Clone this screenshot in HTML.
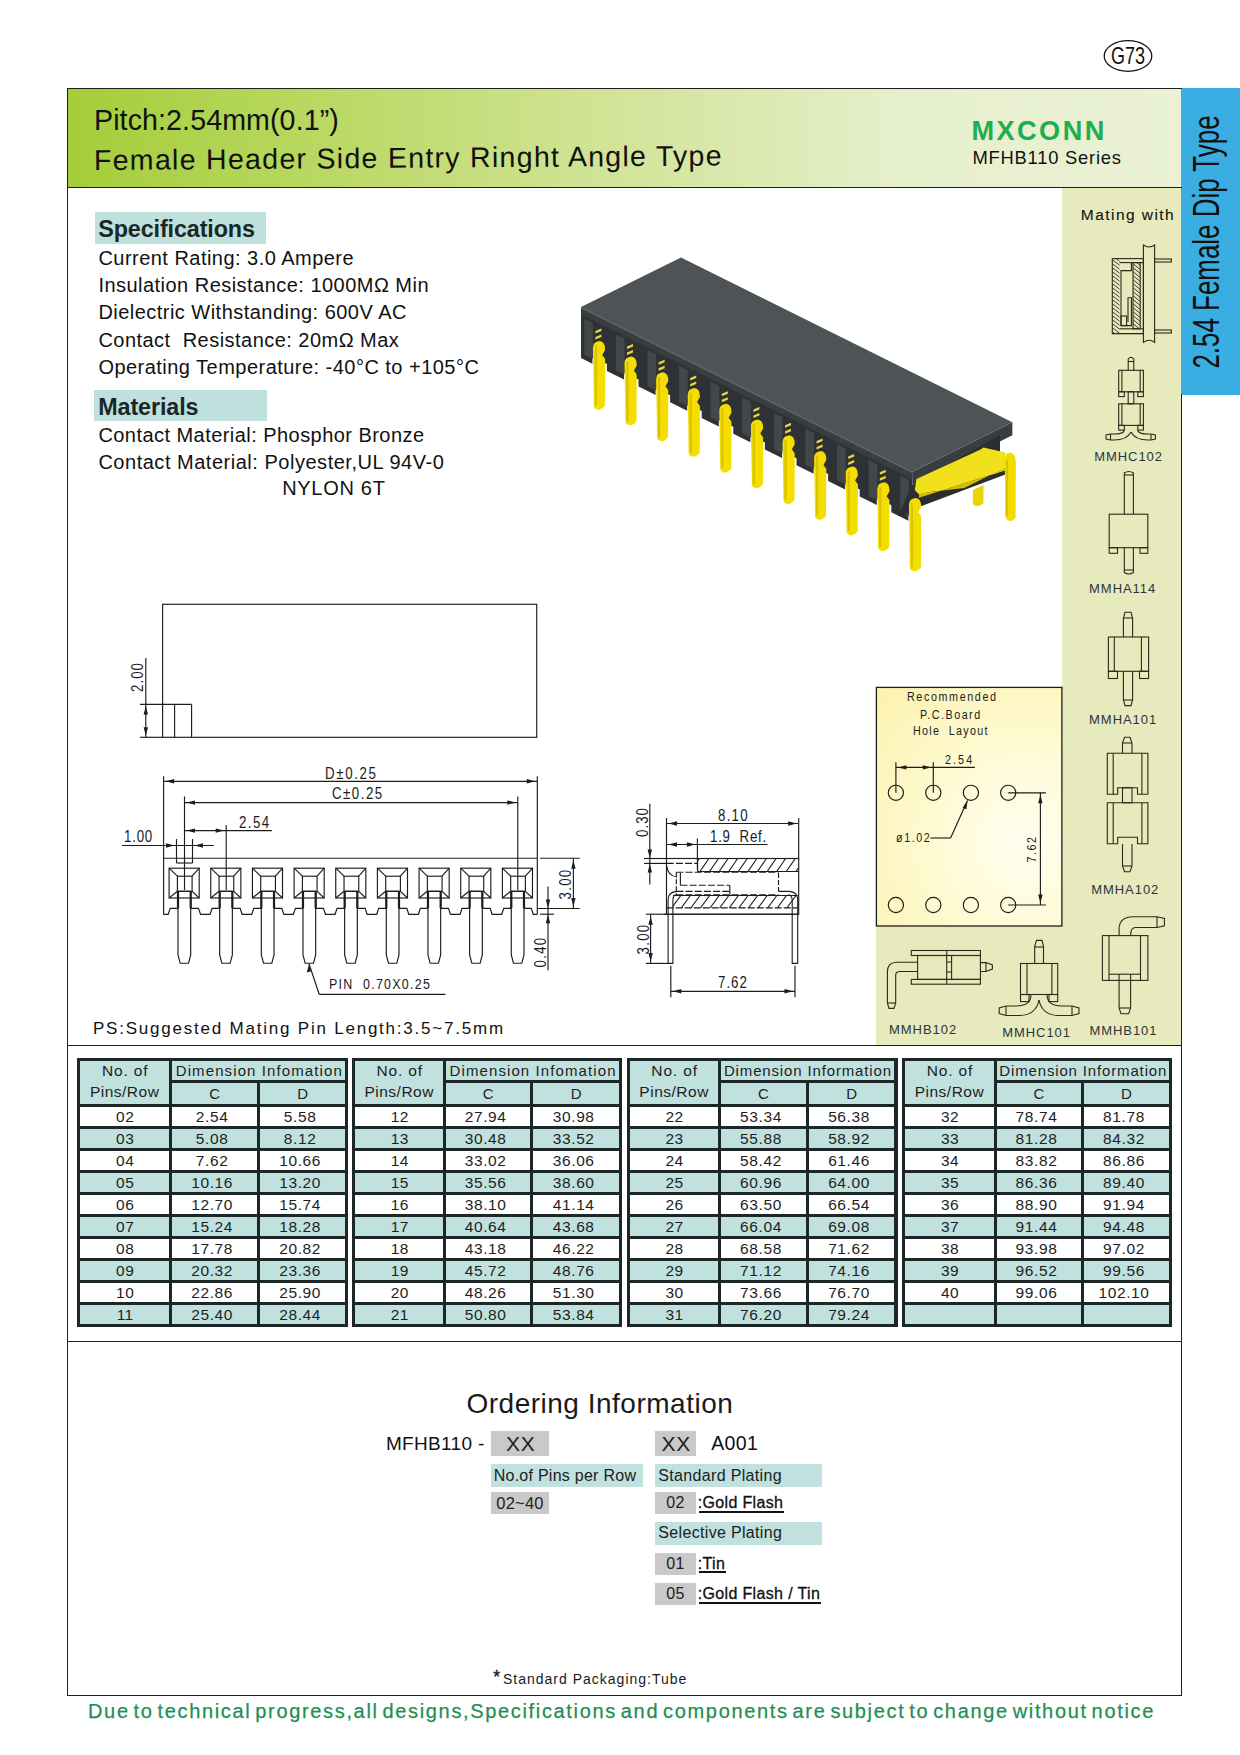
<!DOCTYPE html>
<html><head><meta charset="utf-8"><style>
html,body{margin:0;padding:0;background:#fff;}
body{width:1240px;height:1755px;position:relative;overflow:hidden;font-family:"Liberation Sans",sans-serif;}
.t{position:absolute;white-space:pre;line-height:1;}
.r{position:absolute;}
svg{position:absolute;left:0;top:0;}
</style></head><body>

<div class="r" style="left:68.00px;top:89.00px;width:1113.00px;height:98.00px;background:linear-gradient(90deg,#a4cd39 0%,#b9d861 22%,#d3e49a 50%,#e6efcc 75%,#eaf1d6 100%);"></div>
<div class="r" style="left:1062.00px;top:188.00px;width:119.00px;height:858.00px;background:#e7eabd;"></div>
<div class="r" style="left:876.00px;top:926.00px;width:186.00px;height:120.00px;background:#e7eabd;"></div>
<div class="r" style="left:876.50px;top:687.50px;width:185.50px;height:238.50px;background:radial-gradient(ellipse 120% 100% at 80% 65%,#fffef0 0%,#fffbd8 35%,#fbf1a8 100%);"></div>
<div class="r" style="left:1181.00px;top:88.00px;width:59.00px;height:307.00px;background:#3aade2;"></div>
<div class="t" style="left:94.00px;top:106.39px;font-size:28.6px;font-weight:400;color:#111;letter-spacing:0.1px;">Pitch:2.54mm(0.1”)</div>
<div style="position:absolute;left:0;top:0;transform:rotate(-0.42deg);transform-origin:96px 170px;">
<div class="t" style="left:94.00px;top:146.39px;font-size:28.6px;font-weight:400;color:#111;letter-spacing:1.25px;">Female Header Side Entry Ringht Angle Type</div>
</div>
<div class="t" style="left:971.50px;top:117.28px;font-size:27.2px;font-weight:700;color:#1eae4e;letter-spacing:2.4px;">MXCONN</div>
<div class="t" style="left:972.50px;top:148.92px;font-size:18.4px;font-weight:400;color:#111;letter-spacing:0.75px;">MFHB110 Series</div>
<svg width="1240" height="80" style="left:0;top:0"><ellipse cx="1128" cy="56" rx="23.8" ry="15.3" fill="none" stroke="#111" stroke-width="1.3"/></svg>
<div class="t" style="left:1111.00px;top:44.38px;font-size:24px;font-weight:400;color:#111;letter-spacing:0px;transform:scaleX(0.75);transform-origin:0 0;">G73</div>
<div class="t" style="left:1207.4px;top:242.3px;font-size:36px;color:#111;transform:translate(-50%,-50%) rotate(-90deg) scaleX(0.72);">2.54 Female Dip Type</div>
<div class="r" style="left:94.70px;top:212.30px;width:171.80px;height:31.40px;background:#bfe0dc;"></div>
<div class="t" style="left:98.30px;top:217.88px;font-size:23.3px;font-weight:700;color:#1a2628;letter-spacing:-0.1px;">Specifications</div>
<div class="t" style="left:98.40px;top:248.27px;font-size:20px;font-weight:400;color:#111;letter-spacing:0.47px;">Current Rating: 3.0 Ampere</div>
<div class="t" style="left:98.40px;top:274.67px;font-size:20px;font-weight:400;color:#111;letter-spacing:0.47px;">Insulation Resistance: 1000MΩ Min</div>
<div class="t" style="left:98.40px;top:302.07px;font-size:20px;font-weight:400;color:#111;letter-spacing:0.47px;">Dielectric Withstanding: 600V AC</div>
<div class="t" style="left:98.40px;top:329.57px;font-size:20px;font-weight:400;color:#111;letter-spacing:0.47px;">Contact  Resistance: 20mΩ Max</div>
<div class="t" style="left:98.40px;top:356.97px;font-size:20px;font-weight:400;color:#111;letter-spacing:0.47px;">Operating Temperature: -40°C to +105°C</div>
<div class="r" style="left:94.00px;top:389.70px;width:172.60px;height:31.60px;background:#bfe0dc;"></div>
<div class="t" style="left:98.30px;top:395.58px;font-size:23.3px;font-weight:700;color:#1a2628;letter-spacing:-0.1px;">Materials</div>
<div class="t" style="left:98.40px;top:425.07px;font-size:20px;font-weight:400;color:#111;letter-spacing:0.45px;">Contact Material: Phosphor Bronze</div>
<div class="t" style="left:98.40px;top:451.77px;font-size:20px;font-weight:400;color:#111;letter-spacing:0.52px;">Contact Material: Polyester,UL 94V-0</div>
<div class="t" style="left:282.20px;top:478.27px;font-size:20px;font-weight:400;color:#111;letter-spacing:0.7px;">NYLON 6T</div>
<div class="t" style="left:93.00px;top:1019.71px;font-size:17px;font-weight:400;color:#111;letter-spacing:1.78px;">PS:Suggested Mating Pin Length:3.5~7.5mm</div>
<div class="r" style="left:67.00px;top:88.00px;width:1115.00px;height:1.30px;background:#1e1e1e;"></div>
<div class="r" style="left:67.00px;top:186.60px;width:1115.00px;height:1.30px;background:#1e1e1e;"></div>
<div class="r" style="left:67.00px;top:88.00px;width:1.30px;height:1608.30px;background:#1e1e1e;"></div>
<div class="r" style="left:1180.80px;top:394.00px;width:1.30px;height:1302.30px;background:#1e1e1e;"></div>
<div class="r" style="left:67.00px;top:1695.00px;width:1115.10px;height:1.30px;background:#1e1e1e;"></div>
<div class="r" style="left:67.00px;top:1045.00px;width:1115.00px;height:1.20px;background:#1e1e1e;"></div>
<div class="r" style="left:67.00px;top:1341.00px;width:1115.00px;height:1.10px;background:#1e1e1e;"></div>
<svg width="1240" height="600" viewBox="0 0 1240 600" style="left:0;top:0"><polygon points="581.0,307.0 912.4,471.8 912.4,515.8 908.4,513.8 908.4,520.8 891.3,512.3 891.3,505.3 876.8,498.1 876.8,505.1 859.7,496.6 859.7,489.6 845.2,482.4 845.2,489.4 828.1,480.9 828.1,473.9 813.6,466.7 813.6,473.7 796.5,465.2 796.5,458.2 782.0,451.0 782.0,458.0 764.9,449.5 764.9,442.5 750.4,435.2 750.4,442.2 733.3,433.7 733.3,426.7 718.8,419.5 718.8,426.5 701.7,418.0 701.7,411.0 687.2,403.8 687.2,410.8 670.1,402.3 670.1,395.3 655.6,388.1 655.6,395.1 638.5,386.6 638.5,379.6 624.0,372.4 624.0,379.4 606.9,370.9 606.9,363.9 592.4,356.7 592.4,363.7 581.0,358.0 581.0,359.5" fill="#2e3235" /><polygon points="581.0,307.0 912.4,471.8 912.4,479.3 581.0,314.5" fill="#3a3e41" /><polygon points="584.2,318.6 592.9,322.9 592.9,358.9 584.2,354.6" fill="#42474a" /><polygon points="615.8,334.3 624.5,338.6 624.5,374.6 615.8,370.3" fill="#42474a" /><polygon points="647.4,350.0 656.1,354.3 656.1,390.3 647.4,386.0" fill="#42474a" /><polygon points="679.0,365.7 687.7,370.1 687.7,406.1 679.0,401.7" fill="#42474a" /><polygon points="710.6,381.5 719.3,385.8 719.3,421.8 710.6,417.5" fill="#42474a" /><polygon points="742.2,397.2 750.9,401.5 750.9,437.5 742.2,433.2" fill="#42474a" /><polygon points="773.8,412.9 782.5,417.2 782.5,453.2 773.8,448.9" fill="#42474a" /><polygon points="805.4,428.6 814.1,432.9 814.1,468.9 805.4,464.6" fill="#42474a" /><polygon points="837.0,444.3 845.7,448.6 845.7,484.6 837.0,480.3" fill="#42474a" /><polygon points="868.6,460.0 877.3,464.3 877.3,500.3 868.6,496.0" fill="#42474a" /><polygon points="900.2,475.7 908.9,480.1 908.9,516.1 900.2,511.7" fill="#42474a" /><polygon points="912.4,471.8 1012.4,422.3 1012.4,435.3 912.4,484.8" fill="#393d40" /><polygon points="912.4,484.8 1000.0,435.0 1000.0,468.0 921.0,506.0 906.0,514.0 898.0,516.0" fill="#2b2f32" /><path d="M972.9,490 L983.5,485 L983.5,503 Q978.5,509 972.9,504 Z" fill="#e9d400"/><polygon points="914.8,490.0 916.5,479.0 980.6,449.5 983.4,447.6 1005.3,452.5 1005.3,467.6 964.2,488.1 928.5,492.3 919.0,494.5" fill="#f3e01c" /><polygon points="919.0,497.7 1005.3,470.3 1005.3,474.4 921.7,506.0" fill="#2a2d2a" /><polygon points="928.5,492.3 964.2,488.1 1005.3,467.6 1005.3,470.3 919.0,497.7 919.0,493.6" fill="#d6bf00" /><path d="M1004.8,459 Q1005.5,452 1010.5,452.5 Q1015.8,454 1015.8,462 L1015.6,517 Q1010.5,525 1005.2,517 Z" fill="#f2dc00"/><path d="M1007,460 L1007,516" stroke="#d9c300" stroke-width="2"/><polygon points="581.0,307.0 681.0,257.5 1012.4,422.3 912.4,471.8" fill="#4e5356" /><line x1="581" y1="307.6" x2="912.4" y2="472.40000000000003" stroke="#5e6366" stroke-width="1.2"/><path d="M592.9,347.9 Q592.9,341.4 599.9,340.9 Q605.4,341.9 605.1,349.9 L602.3,354.9 L605.1,358.9 L604.9,405.4 Q599.4,412.9 593.9,407.4 Z" fill="#f3de00"/><path d="M595.9,345.9 L595.9,405.4" stroke="#d9c200" stroke-width="2.2"/><path d="M595.4,330.9 l6,-2.5 l0,2.5 l-6,2.5 Z M595.4,336.9 l6,-2.5 l0,2.5 l-6,2.5 Z" fill="#e8d83a"/><path d="M624.5,363.6 Q624.5,357.1 631.5,356.6 Q637.0,357.6 636.7,365.6 L633.9,370.6 L636.7,374.6 L636.5,421.1 Q631.0,428.6 625.5,423.1 Z" fill="#f3de00"/><path d="M627.5,361.6 L627.5,421.1" stroke="#d9c200" stroke-width="2.2"/><path d="M627.0,346.6 l6,-2.5 l0,2.5 l-6,2.5 Z M627.0,352.6 l6,-2.5 l0,2.5 l-6,2.5 Z" fill="#e8d83a"/><path d="M656.1,379.3 Q656.1,372.8 663.1,372.3 Q668.6,373.3 668.3,381.3 L665.5,386.3 L668.3,390.3 L668.1,436.8 Q662.6,444.3 657.1,438.8 Z" fill="#f3de00"/><path d="M659.1,377.3 L659.1,436.8" stroke="#d9c200" stroke-width="2.2"/><path d="M658.6,362.3 l6,-2.5 l0,2.5 l-6,2.5 Z M658.6,368.3 l6,-2.5 l0,2.5 l-6,2.5 Z" fill="#e8d83a"/><path d="M687.7,395.0 Q687.7,388.5 694.7,388.0 Q700.2,389.0 699.9,397.0 L697.1,402.0 L699.9,406.0 L699.7,452.5 Q694.2,460.0 688.7,454.5 Z" fill="#f3de00"/><path d="M690.7,393.0 L690.7,452.5" stroke="#d9c200" stroke-width="2.2"/><path d="M690.2,378.0 l6,-2.5 l0,2.5 l-6,2.5 Z M690.2,384.0 l6,-2.5 l0,2.5 l-6,2.5 Z" fill="#e8d83a"/><path d="M719.3,410.8 Q719.3,404.3 726.3,403.8 Q731.8,404.8 731.5,412.8 L728.7,417.8 L731.5,421.8 L731.3,468.3 Q725.8,475.8 720.3,470.3 Z" fill="#f3de00"/><path d="M722.3,408.8 L722.3,468.3" stroke="#d9c200" stroke-width="2.2"/><path d="M721.8,393.8 l6,-2.5 l0,2.5 l-6,2.5 Z M721.8,399.8 l6,-2.5 l0,2.5 l-6,2.5 Z" fill="#e8d83a"/><path d="M750.9,426.5 Q750.9,420.0 757.9,419.5 Q763.4,420.5 763.1,428.5 L760.3,433.5 L763.1,437.5 L762.9,484.0 Q757.4,491.5 751.9,486.0 Z" fill="#f3de00"/><path d="M753.9,424.5 L753.9,484.0" stroke="#d9c200" stroke-width="2.2"/><path d="M753.4,409.5 l6,-2.5 l0,2.5 l-6,2.5 Z M753.4,415.5 l6,-2.5 l0,2.5 l-6,2.5 Z" fill="#e8d83a"/><path d="M782.5,442.2 Q782.5,435.7 789.5,435.2 Q795.0,436.2 794.7,444.2 L791.9,449.2 L794.7,453.2 L794.5,499.7 Q789.0,507.2 783.5,501.7 Z" fill="#f3de00"/><path d="M785.5,440.2 L785.5,499.7" stroke="#d9c200" stroke-width="2.2"/><path d="M785.0,425.2 l6,-2.5 l0,2.5 l-6,2.5 Z M785.0,431.2 l6,-2.5 l0,2.5 l-6,2.5 Z" fill="#e8d83a"/><path d="M814.1,457.9 Q814.1,451.4 821.1,450.9 Q826.6,451.9 826.3,459.9 L823.5,464.9 L826.3,468.9 L826.1,515.4 Q820.6,522.9 815.1,517.4 Z" fill="#f3de00"/><path d="M817.1,455.9 L817.1,515.4" stroke="#d9c200" stroke-width="2.2"/><path d="M816.6,440.9 l6,-2.5 l0,2.5 l-6,2.5 Z M816.6,446.9 l6,-2.5 l0,2.5 l-6,2.5 Z" fill="#e8d83a"/><path d="M845.7,473.6 Q845.7,467.1 852.7,466.6 Q858.2,467.6 857.9,475.6 L855.1,480.6 L857.9,484.6 L857.7,531.1 Q852.2,538.6 846.7,533.1 Z" fill="#f3de00"/><path d="M848.7,471.6 L848.7,531.1" stroke="#d9c200" stroke-width="2.2"/><path d="M848.2,456.6 l6,-2.5 l0,2.5 l-6,2.5 Z M848.2,462.6 l6,-2.5 l0,2.5 l-6,2.5 Z" fill="#e8d83a"/><path d="M877.3,489.3 Q877.3,482.8 884.3,482.3 Q889.8,483.3 889.5,491.3 L886.7,496.3 L889.5,500.3 L889.3,546.8 Q883.8,554.3 878.3,548.8 Z" fill="#f3de00"/><path d="M880.3,487.3 L880.3,546.8" stroke="#d9c200" stroke-width="2.2"/><path d="M879.8,472.3 l6,-2.5 l0,2.5 l-6,2.5 Z M879.8,478.3 l6,-2.5 l0,2.5 l-6,2.5 Z" fill="#e8d83a"/><path d="M908.9,505.0 Q908.9,498.5 915.9,498.0 Q921.4,499.0 921.1,507.0 L918.3,512.0 L921.1,516.0 L920.9,567.0 Q915.4,574.5 909.9,569.0 Z" fill="#f3de00"/><path d="M911.9,503.0 L911.9,567.0" stroke="#d9c200" stroke-width="2.2"/></svg>
<svg width="1240" height="1100" viewBox="0 0 1240 1100" style="left:0;top:0"><rect x="162.60" y="604.30" width="374.10" height="133.00" fill="none" stroke="#1c1c1c" stroke-width="1.15"/><line x1="140.00" y1="704.40" x2="191.60" y2="704.40" stroke="#1c1c1c" stroke-width="1.15"/><line x1="174.60" y1="704.40" x2="174.60" y2="737.30" stroke="#1c1c1c" stroke-width="1.15"/><line x1="191.60" y1="704.40" x2="191.60" y2="737.30" stroke="#1c1c1c" stroke-width="1.15"/><line x1="140.00" y1="737.30" x2="162.60" y2="737.30" stroke="#1c1c1c" stroke-width="1.15"/><line x1="145.80" y1="658.00" x2="145.80" y2="737.30" stroke="#1c1c1c" stroke-width="1.15"/><polygon points="145.80,705.90 143.60,714.40 148.00,714.40" fill="#1c1c1c"/><polygon points="145.80,735.80 143.60,727.30 148.00,727.30" fill="#1c1c1c"/><line x1="163.60" y1="776.30" x2="163.60" y2="914.40" stroke="#1c1c1c" stroke-width="1.15"/><line x1="537.30" y1="776.30" x2="537.30" y2="914.30" stroke="#1c1c1c" stroke-width="1.15"/><line x1="163.60" y1="858.20" x2="537.30" y2="858.20" stroke="#1c1c1c" stroke-width="1.15"/><polyline points="163.60,914.30 168.20,914.30 170.20,908.30 178.00,908.30" fill="none" stroke="#1c1c1c" stroke-width="1.15" stroke-linejoin="miter"/><polyline points="190.70,908.30 198.50,908.30 200.50,914.30 210.10,914.30 212.10,908.30 219.66,908.30" fill="none" stroke="#1c1c1c" stroke-width="1.15" stroke-linejoin="miter"/><polyline points="232.36,908.30 240.16,908.30 242.16,914.30 251.76,914.30 253.76,908.30 261.32,908.30" fill="none" stroke="#1c1c1c" stroke-width="1.15" stroke-linejoin="miter"/><polyline points="274.02,908.30 281.82,908.30 283.82,914.30 293.42,914.30 295.42,908.30 302.98,908.30" fill="none" stroke="#1c1c1c" stroke-width="1.15" stroke-linejoin="miter"/><polyline points="315.68,908.30 323.48,908.30 325.48,914.30 335.08,914.30 337.08,908.30 344.64,908.30" fill="none" stroke="#1c1c1c" stroke-width="1.15" stroke-linejoin="miter"/><polyline points="357.34,908.30 365.14,908.30 367.14,914.30 376.74,914.30 378.74,908.30 386.30,908.30" fill="none" stroke="#1c1c1c" stroke-width="1.15" stroke-linejoin="miter"/><polyline points="399.00,908.30 406.80,908.30 408.80,914.30 418.40,914.30 420.40,908.30 427.96,908.30" fill="none" stroke="#1c1c1c" stroke-width="1.15" stroke-linejoin="miter"/><polyline points="440.66,908.30 448.46,908.30 450.46,914.30 460.06,914.30 462.06,908.30 469.62,908.30" fill="none" stroke="#1c1c1c" stroke-width="1.15" stroke-linejoin="miter"/><polyline points="482.32,908.30 490.12,908.30 492.12,914.30 501.72,914.30 503.72,908.30 511.28,908.30" fill="none" stroke="#1c1c1c" stroke-width="1.15" stroke-linejoin="miter"/><polyline points="523.98,908.30 531.28,908.30 533.28,914.30 537.30,914.30" fill="none" stroke="#1c1c1c" stroke-width="1.15" stroke-linejoin="miter"/><rect x="169.10" y="868.20" width="30.10" height="29.80" fill="none" stroke="#1c1c1c" stroke-width="1.15"/><rect x="177.40" y="876.20" width="14.70" height="15.10" fill="none" stroke="#1c1c1c" stroke-width="1.15"/><line x1="169.10" y1="868.20" x2="177.40" y2="876.20" stroke="#1c1c1c" stroke-width="1.15"/><line x1="199.20" y1="868.20" x2="192.10" y2="876.20" stroke="#1c1c1c" stroke-width="1.15"/><line x1="169.10" y1="898.00" x2="177.40" y2="891.30" stroke="#1c1c1c" stroke-width="1.15"/><line x1="199.20" y1="898.00" x2="192.10" y2="891.30" stroke="#1c1c1c" stroke-width="1.15"/><polyline points="178.00,891.30 178.00,955.00 180.20,963.20 188.50,963.20 190.70,955.00 190.70,891.30" fill="none" stroke="#1c1c1c" stroke-width="1.15" stroke-linejoin="miter"/><line x1="178.00" y1="891.30" x2="190.70" y2="891.30" stroke="#1c1c1c" stroke-width="1.15"/><line x1="178.00" y1="891.00" x2="178.00" y2="908.30" stroke="#1c1c1c" stroke-width="2.2"/><line x1="190.70" y1="891.00" x2="190.70" y2="908.30" stroke="#1c1c1c" stroke-width="2.2"/><rect x="210.76" y="868.20" width="30.10" height="29.80" fill="none" stroke="#1c1c1c" stroke-width="1.15"/><rect x="219.06" y="876.20" width="14.70" height="15.10" fill="none" stroke="#1c1c1c" stroke-width="1.15"/><line x1="210.76" y1="868.20" x2="219.06" y2="876.20" stroke="#1c1c1c" stroke-width="1.15"/><line x1="240.86" y1="868.20" x2="233.76" y2="876.20" stroke="#1c1c1c" stroke-width="1.15"/><line x1="210.76" y1="898.00" x2="219.06" y2="891.30" stroke="#1c1c1c" stroke-width="1.15"/><line x1="240.86" y1="898.00" x2="233.76" y2="891.30" stroke="#1c1c1c" stroke-width="1.15"/><polyline points="219.66,891.30 219.66,955.00 221.86,963.20 230.16,963.20 232.36,955.00 232.36,891.30" fill="none" stroke="#1c1c1c" stroke-width="1.15" stroke-linejoin="miter"/><line x1="219.66" y1="891.30" x2="232.36" y2="891.30" stroke="#1c1c1c" stroke-width="1.15"/><line x1="219.66" y1="891.00" x2="219.66" y2="908.30" stroke="#1c1c1c" stroke-width="2.2"/><line x1="232.36" y1="891.00" x2="232.36" y2="908.30" stroke="#1c1c1c" stroke-width="2.2"/><rect x="252.42" y="868.20" width="30.10" height="29.80" fill="none" stroke="#1c1c1c" stroke-width="1.15"/><rect x="260.72" y="876.20" width="14.70" height="15.10" fill="none" stroke="#1c1c1c" stroke-width="1.15"/><line x1="252.42" y1="868.20" x2="260.72" y2="876.20" stroke="#1c1c1c" stroke-width="1.15"/><line x1="282.52" y1="868.20" x2="275.42" y2="876.20" stroke="#1c1c1c" stroke-width="1.15"/><line x1="252.42" y1="898.00" x2="260.72" y2="891.30" stroke="#1c1c1c" stroke-width="1.15"/><line x1="282.52" y1="898.00" x2="275.42" y2="891.30" stroke="#1c1c1c" stroke-width="1.15"/><polyline points="261.32,891.30 261.32,955.00 263.52,963.20 271.82,963.20 274.02,955.00 274.02,891.30" fill="none" stroke="#1c1c1c" stroke-width="1.15" stroke-linejoin="miter"/><line x1="261.32" y1="891.30" x2="274.02" y2="891.30" stroke="#1c1c1c" stroke-width="1.15"/><line x1="261.32" y1="891.00" x2="261.32" y2="908.30" stroke="#1c1c1c" stroke-width="2.2"/><line x1="274.02" y1="891.00" x2="274.02" y2="908.30" stroke="#1c1c1c" stroke-width="2.2"/><rect x="294.08" y="868.20" width="30.10" height="29.80" fill="none" stroke="#1c1c1c" stroke-width="1.15"/><rect x="302.38" y="876.20" width="14.70" height="15.10" fill="none" stroke="#1c1c1c" stroke-width="1.15"/><line x1="294.08" y1="868.20" x2="302.38" y2="876.20" stroke="#1c1c1c" stroke-width="1.15"/><line x1="324.18" y1="868.20" x2="317.08" y2="876.20" stroke="#1c1c1c" stroke-width="1.15"/><line x1="294.08" y1="898.00" x2="302.38" y2="891.30" stroke="#1c1c1c" stroke-width="1.15"/><line x1="324.18" y1="898.00" x2="317.08" y2="891.30" stroke="#1c1c1c" stroke-width="1.15"/><polyline points="302.98,891.30 302.98,955.00 305.18,963.20 313.48,963.20 315.68,955.00 315.68,891.30" fill="none" stroke="#1c1c1c" stroke-width="1.15" stroke-linejoin="miter"/><line x1="302.98" y1="891.30" x2="315.68" y2="891.30" stroke="#1c1c1c" stroke-width="1.15"/><line x1="302.98" y1="891.00" x2="302.98" y2="908.30" stroke="#1c1c1c" stroke-width="2.2"/><line x1="315.68" y1="891.00" x2="315.68" y2="908.30" stroke="#1c1c1c" stroke-width="2.2"/><rect x="335.74" y="868.20" width="30.10" height="29.80" fill="none" stroke="#1c1c1c" stroke-width="1.15"/><rect x="344.04" y="876.20" width="14.70" height="15.10" fill="none" stroke="#1c1c1c" stroke-width="1.15"/><line x1="335.74" y1="868.20" x2="344.04" y2="876.20" stroke="#1c1c1c" stroke-width="1.15"/><line x1="365.84" y1="868.20" x2="358.74" y2="876.20" stroke="#1c1c1c" stroke-width="1.15"/><line x1="335.74" y1="898.00" x2="344.04" y2="891.30" stroke="#1c1c1c" stroke-width="1.15"/><line x1="365.84" y1="898.00" x2="358.74" y2="891.30" stroke="#1c1c1c" stroke-width="1.15"/><polyline points="344.64,891.30 344.64,955.00 346.84,963.20 355.14,963.20 357.34,955.00 357.34,891.30" fill="none" stroke="#1c1c1c" stroke-width="1.15" stroke-linejoin="miter"/><line x1="344.64" y1="891.30" x2="357.34" y2="891.30" stroke="#1c1c1c" stroke-width="1.15"/><line x1="344.64" y1="891.00" x2="344.64" y2="908.30" stroke="#1c1c1c" stroke-width="2.2"/><line x1="357.34" y1="891.00" x2="357.34" y2="908.30" stroke="#1c1c1c" stroke-width="2.2"/><rect x="377.40" y="868.20" width="30.10" height="29.80" fill="none" stroke="#1c1c1c" stroke-width="1.15"/><rect x="385.70" y="876.20" width="14.70" height="15.10" fill="none" stroke="#1c1c1c" stroke-width="1.15"/><line x1="377.40" y1="868.20" x2="385.70" y2="876.20" stroke="#1c1c1c" stroke-width="1.15"/><line x1="407.50" y1="868.20" x2="400.40" y2="876.20" stroke="#1c1c1c" stroke-width="1.15"/><line x1="377.40" y1="898.00" x2="385.70" y2="891.30" stroke="#1c1c1c" stroke-width="1.15"/><line x1="407.50" y1="898.00" x2="400.40" y2="891.30" stroke="#1c1c1c" stroke-width="1.15"/><polyline points="386.30,891.30 386.30,955.00 388.50,963.20 396.80,963.20 399.00,955.00 399.00,891.30" fill="none" stroke="#1c1c1c" stroke-width="1.15" stroke-linejoin="miter"/><line x1="386.30" y1="891.30" x2="399.00" y2="891.30" stroke="#1c1c1c" stroke-width="1.15"/><line x1="386.30" y1="891.00" x2="386.30" y2="908.30" stroke="#1c1c1c" stroke-width="2.2"/><line x1="399.00" y1="891.00" x2="399.00" y2="908.30" stroke="#1c1c1c" stroke-width="2.2"/><rect x="419.06" y="868.20" width="30.10" height="29.80" fill="none" stroke="#1c1c1c" stroke-width="1.15"/><rect x="427.36" y="876.20" width="14.70" height="15.10" fill="none" stroke="#1c1c1c" stroke-width="1.15"/><line x1="419.06" y1="868.20" x2="427.36" y2="876.20" stroke="#1c1c1c" stroke-width="1.15"/><line x1="449.16" y1="868.20" x2="442.06" y2="876.20" stroke="#1c1c1c" stroke-width="1.15"/><line x1="419.06" y1="898.00" x2="427.36" y2="891.30" stroke="#1c1c1c" stroke-width="1.15"/><line x1="449.16" y1="898.00" x2="442.06" y2="891.30" stroke="#1c1c1c" stroke-width="1.15"/><polyline points="427.96,891.30 427.96,955.00 430.16,963.20 438.46,963.20 440.66,955.00 440.66,891.30" fill="none" stroke="#1c1c1c" stroke-width="1.15" stroke-linejoin="miter"/><line x1="427.96" y1="891.30" x2="440.66" y2="891.30" stroke="#1c1c1c" stroke-width="1.15"/><line x1="427.96" y1="891.00" x2="427.96" y2="908.30" stroke="#1c1c1c" stroke-width="2.2"/><line x1="440.66" y1="891.00" x2="440.66" y2="908.30" stroke="#1c1c1c" stroke-width="2.2"/><rect x="460.72" y="868.20" width="30.10" height="29.80" fill="none" stroke="#1c1c1c" stroke-width="1.15"/><rect x="469.02" y="876.20" width="14.70" height="15.10" fill="none" stroke="#1c1c1c" stroke-width="1.15"/><line x1="460.72" y1="868.20" x2="469.02" y2="876.20" stroke="#1c1c1c" stroke-width="1.15"/><line x1="490.82" y1="868.20" x2="483.72" y2="876.20" stroke="#1c1c1c" stroke-width="1.15"/><line x1="460.72" y1="898.00" x2="469.02" y2="891.30" stroke="#1c1c1c" stroke-width="1.15"/><line x1="490.82" y1="898.00" x2="483.72" y2="891.30" stroke="#1c1c1c" stroke-width="1.15"/><polyline points="469.62,891.30 469.62,955.00 471.82,963.20 480.12,963.20 482.32,955.00 482.32,891.30" fill="none" stroke="#1c1c1c" stroke-width="1.15" stroke-linejoin="miter"/><line x1="469.62" y1="891.30" x2="482.32" y2="891.30" stroke="#1c1c1c" stroke-width="1.15"/><line x1="469.62" y1="891.00" x2="469.62" y2="908.30" stroke="#1c1c1c" stroke-width="2.2"/><line x1="482.32" y1="891.00" x2="482.32" y2="908.30" stroke="#1c1c1c" stroke-width="2.2"/><rect x="502.38" y="868.20" width="30.10" height="29.80" fill="none" stroke="#1c1c1c" stroke-width="1.15"/><rect x="510.68" y="876.20" width="14.70" height="15.10" fill="none" stroke="#1c1c1c" stroke-width="1.15"/><line x1="502.38" y1="868.20" x2="510.68" y2="876.20" stroke="#1c1c1c" stroke-width="1.15"/><line x1="532.48" y1="868.20" x2="525.38" y2="876.20" stroke="#1c1c1c" stroke-width="1.15"/><line x1="502.38" y1="898.00" x2="510.68" y2="891.30" stroke="#1c1c1c" stroke-width="1.15"/><line x1="532.48" y1="898.00" x2="525.38" y2="891.30" stroke="#1c1c1c" stroke-width="1.15"/><polyline points="511.28,891.30 511.28,955.00 513.48,963.20 521.78,963.20 523.98,955.00 523.98,891.30" fill="none" stroke="#1c1c1c" stroke-width="1.15" stroke-linejoin="miter"/><line x1="511.28" y1="891.30" x2="523.98" y2="891.30" stroke="#1c1c1c" stroke-width="1.15"/><line x1="511.28" y1="891.00" x2="511.28" y2="908.30" stroke="#1c1c1c" stroke-width="2.2"/><line x1="523.98" y1="891.00" x2="523.98" y2="908.30" stroke="#1c1c1c" stroke-width="2.2"/><line x1="163.60" y1="781.30" x2="537.30" y2="781.30" stroke="#1c1c1c" stroke-width="1.15"/><polygon points="165.60,781.30 174.10,779.10 174.10,783.50" fill="#1c1c1c"/><polygon points="535.30,781.30 526.80,779.10 526.80,783.50" fill="#1c1c1c"/><line x1="184.50" y1="796.40" x2="184.50" y2="890.00" stroke="#1c1c1c" stroke-width="1.15"/><line x1="517.78" y1="796.40" x2="517.78" y2="890.00" stroke="#1c1c1c" stroke-width="1.15"/><line x1="184.50" y1="802.60" x2="517.78" y2="802.60" stroke="#1c1c1c" stroke-width="1.15"/><polygon points="186.50,802.60 195.00,800.40 195.00,804.80" fill="#1c1c1c"/><polygon points="515.78,802.60 507.28,800.40 507.28,804.80" fill="#1c1c1c"/><line x1="226.20" y1="825.30" x2="226.20" y2="890.00" stroke="#1c1c1c" stroke-width="1.15"/><line x1="184.50" y1="830.60" x2="271.80" y2="830.60" stroke="#1c1c1c" stroke-width="1.15"/><polygon points="186.50,830.60 195.00,828.40 195.00,832.80" fill="#1c1c1c"/><polygon points="224.20,830.60 215.70,828.40 215.70,832.80" fill="#1c1c1c"/><line x1="176.50" y1="839.00" x2="176.50" y2="863.00" stroke="#1c1c1c" stroke-width="1.15"/><line x1="192.50" y1="839.00" x2="192.50" y2="863.00" stroke="#1c1c1c" stroke-width="1.15"/><line x1="176.50" y1="863.00" x2="192.50" y2="863.00" stroke="#1c1c1c" stroke-width="1.15"/><line x1="122.00" y1="845.50" x2="213.80" y2="845.50" stroke="#1c1c1c" stroke-width="1.15"/><polygon points="174.50,845.50 166.00,843.30 166.00,847.70" fill="#1c1c1c"/><polygon points="194.50,845.50 203.00,843.30 203.00,847.70" fill="#1c1c1c"/><line x1="540.00" y1="858.20" x2="579.80" y2="858.20" stroke="#1c1c1c" stroke-width="1.15"/><line x1="537.30" y1="908.50" x2="579.80" y2="908.50" stroke="#1c1c1c" stroke-width="1.15"/><line x1="573.40" y1="858.20" x2="573.40" y2="908.50" stroke="#1c1c1c" stroke-width="1.15"/><polygon points="573.40,860.20 571.20,868.70 575.60,868.70" fill="#1c1c1c"/><polygon points="573.40,906.50 571.20,898.00 575.60,898.00" fill="#1c1c1c"/><line x1="540.00" y1="914.20" x2="554.00" y2="914.20" stroke="#1c1c1c" stroke-width="1.15"/><line x1="548.00" y1="886.50" x2="548.00" y2="970.30" stroke="#1c1c1c" stroke-width="1.15"/><polygon points="548.00,908.00 545.80,899.50 550.20,899.50" fill="#1c1c1c"/><polygon points="548.00,914.70 545.80,923.20 550.20,923.20" fill="#1c1c1c"/><line x1="309.00" y1="963.80" x2="319.20" y2="994.30" stroke="#1c1c1c" stroke-width="1.15"/><line x1="319.20" y1="994.30" x2="445.50" y2="994.30" stroke="#1c1c1c" stroke-width="1.15"/><polygon points="309,964 306.8,972.5 311.2,971.2" fill="#1c1c1c"/><rect x="666.50" y="858.50" width="132.20" height="55.70" fill="none" stroke="#1c1c1c" stroke-width="1.15"/><line x1="666.50" y1="818.00" x2="666.50" y2="858.50" stroke="#1c1c1c" stroke-width="1.15"/><line x1="798.70" y1="818.00" x2="798.70" y2="858.50" stroke="#1c1c1c" stroke-width="1.15"/><line x1="666.50" y1="823.50" x2="798.70" y2="823.50" stroke="#1c1c1c" stroke-width="1.15"/><polygon points="668.50,823.50 677.00,821.30 677.00,825.70" fill="#1c1c1c"/><polygon points="796.70,823.50 788.20,821.30 788.20,825.70" fill="#1c1c1c"/><line x1="697.40" y1="838.40" x2="697.40" y2="869.80" stroke="#1c1c1c" stroke-width="1.15"/><line x1="666.50" y1="844.50" x2="767.60" y2="844.50" stroke="#1c1c1c" stroke-width="1.15"/><polygon points="668.50,844.50 677.00,842.30 677.00,846.70" fill="#1c1c1c"/><polygon points="695.40,844.50 686.90,842.30 686.90,846.70" fill="#1c1c1c"/><line x1="644.00" y1="858.50" x2="666.50" y2="858.50" stroke="#1c1c1c" stroke-width="1.15"/><line x1="644.00" y1="863.40" x2="666.70" y2="863.40" stroke="#1c1c1c" stroke-width="1.15"/><line x1="666.70" y1="863.30" x2="697.60" y2="863.30" stroke="#1c1c1c" stroke-width="1.15" stroke-dasharray="7,2.2"/><line x1="649.80" y1="803.70" x2="649.80" y2="884.40" stroke="#1c1c1c" stroke-width="1.15"/><polygon points="649.80,858.00 647.60,849.50 652.00,849.50" fill="#1c1c1c"/><polygon points="649.80,863.90 647.60,872.40 652.00,872.40" fill="#1c1c1c"/><defs><clipPath id="hb1"><rect x="697.6" y="858.5" width="100.8" height="13"/></clipPath><clipPath id="hb2"><rect x="672.9" y="895.5" width="124.8" height="12.4"/></clipPath></defs><g clip-path="url(#hb1)"><line x1="690.0" y1="872" x2="699.6" y2="858" stroke="#1c1c1c" stroke-width="1.1"/><line x1="699.6" y1="872" x2="709.2" y2="858" stroke="#1c1c1c" stroke-width="1.1"/><line x1="709.2" y1="872" x2="718.8" y2="858" stroke="#1c1c1c" stroke-width="1.1"/><line x1="718.8" y1="872" x2="728.4" y2="858" stroke="#1c1c1c" stroke-width="1.1"/><line x1="728.4" y1="872" x2="738.0" y2="858" stroke="#1c1c1c" stroke-width="1.1"/><line x1="738.0" y1="872" x2="747.6" y2="858" stroke="#1c1c1c" stroke-width="1.1"/><line x1="747.6" y1="872" x2="757.2" y2="858" stroke="#1c1c1c" stroke-width="1.1"/><line x1="757.2" y1="872" x2="766.8" y2="858" stroke="#1c1c1c" stroke-width="1.1"/><line x1="766.8" y1="872" x2="776.4" y2="858" stroke="#1c1c1c" stroke-width="1.1"/><line x1="776.4" y1="872" x2="786.0" y2="858" stroke="#1c1c1c" stroke-width="1.1"/><line x1="786.0" y1="872" x2="795.6" y2="858" stroke="#1c1c1c" stroke-width="1.1"/><line x1="795.6" y1="872" x2="805.2" y2="858" stroke="#1c1c1c" stroke-width="1.1"/></g><g clip-path="url(#hb2)"><line x1="662.0" y1="908" x2="671.6" y2="895" stroke="#1c1c1c" stroke-width="1.1"/><line x1="671.6" y1="908" x2="681.2" y2="895" stroke="#1c1c1c" stroke-width="1.1"/><line x1="681.2" y1="908" x2="690.8" y2="895" stroke="#1c1c1c" stroke-width="1.1"/><line x1="690.8" y1="908" x2="700.4" y2="895" stroke="#1c1c1c" stroke-width="1.1"/><line x1="700.4" y1="908" x2="710.0" y2="895" stroke="#1c1c1c" stroke-width="1.1"/><line x1="710.0" y1="908" x2="719.6" y2="895" stroke="#1c1c1c" stroke-width="1.1"/><line x1="719.6" y1="908" x2="729.2" y2="895" stroke="#1c1c1c" stroke-width="1.1"/><line x1="729.2" y1="908" x2="738.8" y2="895" stroke="#1c1c1c" stroke-width="1.1"/><line x1="738.8" y1="908" x2="748.4" y2="895" stroke="#1c1c1c" stroke-width="1.1"/><line x1="748.4" y1="908" x2="758.0" y2="895" stroke="#1c1c1c" stroke-width="1.1"/><line x1="758.0" y1="908" x2="767.6" y2="895" stroke="#1c1c1c" stroke-width="1.1"/><line x1="767.6" y1="908" x2="777.2" y2="895" stroke="#1c1c1c" stroke-width="1.1"/><line x1="777.2" y1="908" x2="786.8" y2="895" stroke="#1c1c1c" stroke-width="1.1"/><line x1="786.8" y1="908" x2="796.4" y2="895" stroke="#1c1c1c" stroke-width="1.1"/></g><line x1="697.60" y1="871.50" x2="798.70" y2="871.50" stroke="#1c1c1c" stroke-width="1.15"/><line x1="672.90" y1="895.50" x2="797.70" y2="895.50" stroke="#1c1c1c" stroke-width="1.15"/><line x1="666.70" y1="907.90" x2="797.70" y2="907.90" stroke="#1c1c1c" stroke-width="1.15" stroke-dasharray="7,2"/><line x1="697.60" y1="858.50" x2="697.60" y2="871.50" stroke="#1c1c1c" stroke-width="1.15"/><line x1="676.30" y1="872.20" x2="778.50" y2="872.20" stroke="#1c1c1c" stroke-width="1.15" stroke-dasharray="7,2.2"/><line x1="676.30" y1="872.20" x2="676.30" y2="894.80" stroke="#1c1c1c" stroke-width="1.15" stroke-dasharray="5,2"/><polyline points="680.40,885.20 680.40,872.90" fill="none" stroke="#1c1c1c" stroke-width="1.1" stroke-linejoin="miter"/><line x1="680.40" y1="885.20" x2="729.80" y2="885.20" stroke="#1c1c1c" stroke-width="1.15" stroke-dasharray="7,2.2"/><line x1="729.80" y1="885.20" x2="729.80" y2="894.80" stroke="#1c1c1c" stroke-width="1.15"/><line x1="778.50" y1="872.90" x2="778.50" y2="891.40" stroke="#1c1c1c" stroke-width="1.15" stroke-dasharray="5,2"/><line x1="676.30" y1="891.40" x2="729.80" y2="891.40" stroke="#1c1c1c" stroke-width="1.15" stroke-dasharray="7,2.2"/><line x1="676.30" y1="894.80" x2="778.50" y2="894.80" stroke="#1c1c1c" stroke-width="1.15" stroke-dasharray="7,2.2"/><path d="M666.7,866 Q668,876 677,877" fill="none" stroke="#1c1c1c" stroke-width="1.1"/><path d="M677,891.4 Q668.1,892 668.1,900 L668.1,963.4 L672.9,963.4 L672.9,900 Q673,895 676.3,894.8" fill="none" stroke="#1c1c1c" stroke-width="1.1"/><path d="M778.5,891.4 L789,891.4 Q797.7,892 797.7,900 L797.7,963.4 L792.2,963.4 L792.2,900 Q792,895 788,894.8" fill="none" stroke="#1c1c1c" stroke-width="1.1"/><line x1="664.00" y1="914.20" x2="798.70" y2="914.20" stroke="#1c1c1c" stroke-width="1.15"/><line x1="645.80" y1="914.20" x2="666.00" y2="914.20" stroke="#1c1c1c" stroke-width="1.15"/><line x1="645.80" y1="963.40" x2="668.00" y2="963.40" stroke="#1c1c1c" stroke-width="1.15"/><line x1="650.60" y1="914.20" x2="650.60" y2="963.40" stroke="#1c1c1c" stroke-width="1.15"/><polygon points="650.60,916.20 648.40,924.70 652.80,924.70" fill="#1c1c1c"/><polygon points="650.60,961.40 648.40,952.90 652.80,952.90" fill="#1c1c1c"/><line x1="670.80" y1="965.80" x2="670.80" y2="997.30" stroke="#1c1c1c" stroke-width="1.15"/><line x1="795.00" y1="965.80" x2="795.00" y2="997.30" stroke="#1c1c1c" stroke-width="1.15"/><line x1="670.80" y1="991.30" x2="795.00" y2="991.30" stroke="#1c1c1c" stroke-width="1.15"/><polygon points="672.80,991.30 681.30,989.10 681.30,993.50" fill="#1c1c1c"/><polygon points="793.00,991.30 784.50,989.10 784.50,993.50" fill="#1c1c1c"/><circle cx="895.9" cy="792.8" r="7.6" fill="none" stroke="#1c1c1c" stroke-width="1.15"/><circle cx="895.9" cy="905.0" r="7.6" fill="none" stroke="#1c1c1c" stroke-width="1.15"/><circle cx="933.3" cy="792.8" r="7.6" fill="none" stroke="#1c1c1c" stroke-width="1.15"/><circle cx="933.3" cy="905.0" r="7.6" fill="none" stroke="#1c1c1c" stroke-width="1.15"/><circle cx="970.9" cy="792.8" r="7.6" fill="none" stroke="#1c1c1c" stroke-width="1.15"/><circle cx="970.9" cy="905.0" r="7.6" fill="none" stroke="#1c1c1c" stroke-width="1.15"/><circle cx="1008.2" cy="792.8" r="7.6" fill="none" stroke="#1c1c1c" stroke-width="1.15"/><circle cx="1008.2" cy="905.0" r="7.6" fill="none" stroke="#1c1c1c" stroke-width="1.15"/><rect x="876.40" y="687.40" width="185.50" height="238.60" fill="none" stroke="#1c1c1c" stroke-width="1.3"/><line x1="895.90" y1="762.30" x2="895.90" y2="792.80" stroke="#1c1c1c" stroke-width="1.15"/><line x1="933.30" y1="762.30" x2="933.30" y2="792.80" stroke="#1c1c1c" stroke-width="1.15"/><line x1="895.90" y1="767.40" x2="974.80" y2="767.40" stroke="#1c1c1c" stroke-width="1.15"/><polygon points="897.90,767.40 906.40,765.20 906.40,769.60" fill="#1c1c1c"/><polygon points="931.30,767.40 922.80,765.20 922.80,769.60" fill="#1c1c1c"/><line x1="930.30" y1="838.00" x2="950.60" y2="838.00" stroke="#1c1c1c" stroke-width="1.15"/><line x1="950.60" y1="838.00" x2="967.50" y2="800.40" stroke="#1c1c1c" stroke-width="1.15"/><polygon points="967.5,800.4 962.6,807.8 966.4,809.3" fill="#1c1c1c"/><line x1="1008.20" y1="792.80" x2="1046.00" y2="792.80" stroke="#1c1c1c" stroke-width="1.15"/><line x1="1008.20" y1="905.00" x2="1046.00" y2="905.00" stroke="#1c1c1c" stroke-width="1.15"/><line x1="1040.40" y1="792.80" x2="1040.40" y2="905.00" stroke="#1c1c1c" stroke-width="1.15"/><polygon points="1040.40,794.80 1038.20,803.30 1042.60,803.30" fill="#1c1c1c"/><polygon points="1040.40,903.00 1038.20,894.50 1042.60,894.50" fill="#1c1c1c"/></svg>
<div class="t" style="left:325.00px;top:764.91px;font-size:17px;font-weight:400;color:#1c1c1c;letter-spacing:2.13px;transform:scaleX(0.78);transform-origin:0 0;">D±0.25</div>
<div class="t" style="left:331.90px;top:785.11px;font-size:17px;font-weight:400;color:#1c1c1c;letter-spacing:1.92px;transform:scaleX(0.78);transform-origin:0 0;">C±0.25</div>
<div class="t" style="left:238.60px;top:814.21px;font-size:17px;font-weight:400;color:#1c1c1c;letter-spacing:1.81px;transform:scaleX(0.78);transform-origin:0 0;">2.54</div>
<div class="t" style="left:124.20px;top:827.81px;font-size:17px;font-weight:400;color:#1c1c1c;letter-spacing:1.04px;transform:scaleX(0.78);transform-origin:0 0;">1.00</div>
<div class="t" style="left:329.30px;top:977.23px;font-size:14.5px;font-weight:400;color:#1c1c1c;letter-spacing:1.46px;transform:scaleX(0.86);transform-origin:0 0;">PIN  0.70X0.25</div>
<div class="t" style="left:137.4px;top:676.5px;font-size:17px;color:#1c1c1c;letter-spacing:1.29px;transform:translate(-50%,-50%) rotate(-90deg) scaleX(0.78);">2.00</div>
<div class="t" style="left:564.5px;top:883.6px;font-size:17px;color:#1c1c1c;letter-spacing:1.63px;transform:translate(-50%,-50%) rotate(-90deg) scaleX(0.78);">3.00</div>
<div class="t" style="left:539.5px;top:952.0px;font-size:17px;color:#1c1c1c;letter-spacing:1.72px;transform:translate(-50%,-50%) rotate(-90deg) scaleX(0.78);">0.40</div>
<div class="t" style="left:717.60px;top:806.51px;font-size:17px;font-weight:400;color:#1c1c1c;letter-spacing:1.63px;transform:scaleX(0.78);transform-origin:0 0;">8.10</div>
<div class="t" style="left:710.30px;top:827.81px;font-size:17px;font-weight:400;color:#1c1c1c;letter-spacing:0.98px;transform:scaleX(0.78);transform-origin:0 0;">1.9  Ref.</div>
<div class="t" style="left:718.40px;top:974.31px;font-size:17px;font-weight:400;color:#1c1c1c;letter-spacing:1.29px;transform:scaleX(0.78);transform-origin:0 0;">7.62</div>
<div class="t" style="left:641.8px;top:821.5px;font-size:17px;color:#1c1c1c;letter-spacing:1.29px;transform:translate(-50%,-50%) rotate(-90deg) scaleX(0.78);">0.30</div>
<div class="t" style="left:642.6px;top:939.2px;font-size:17px;color:#1c1c1c;letter-spacing:1.63px;transform:translate(-50%,-50%) rotate(-90deg) scaleX(0.78);">3.00</div>
<div class="t" style="left:907.40px;top:691.22px;font-size:12.5px;font-weight:400;color:#1c1c1c;letter-spacing:1.87px;transform:scaleX(0.86);transform-origin:0 0;">Recommended</div>
<div class="t" style="left:920.00px;top:708.82px;font-size:12.5px;font-weight:400;color:#1c1c1c;letter-spacing:1.74px;transform:scaleX(0.86);transform-origin:0 0;">P.C.Board</div>
<div class="t" style="left:913.30px;top:725.12px;font-size:12.5px;font-weight:400;color:#1c1c1c;letter-spacing:1.5px;transform:scaleX(0.86);transform-origin:0 0;">Hole  Layout</div>
<div class="t" style="left:944.70px;top:753.92px;font-size:12.5px;font-weight:400;color:#1c1c1c;letter-spacing:2.4px;transform:scaleX(0.86);transform-origin:0 0;">2.54</div>
<div class="t" style="left:896.40px;top:832.12px;font-size:12.5px;font-weight:400;color:#1c1c1c;letter-spacing:1.85px;transform:scaleX(0.86);transform-origin:0 0;">ø1.02</div>
<div class="t" style="left:1031.9px;top:848.7px;font-size:12.5px;color:#1c1c1c;letter-spacing:1.74px;transform:translate(-50%,-50%) rotate(-90deg) scaleX(0.86);">7.62</div>
<svg width="1240" height="1100" viewBox="0 0 1240 1100" style="left:0;top:0"><rect x="1112.3" y="258.6" width="31.1" height="75.0" fill="none" stroke="#2a2a1a" stroke-width="1.1"/><defs><clipPath id="hw1"><rect x="1112.3" y="258.6" width="7.2" height="75"/></clipPath><clipPath id="hw2"><rect x="1133" y="262.6" width="7.2" height="66.2"/></clipPath></defs><g clip-path="url(#hw1)"><line x1="1110" y1="250" x2="1122" y2="259" stroke="#2a2a1a" stroke-width="0.9"/><line x1="1110" y1="254" x2="1122" y2="263" stroke="#2a2a1a" stroke-width="0.9"/><line x1="1110" y1="258" x2="1122" y2="267" stroke="#2a2a1a" stroke-width="0.9"/><line x1="1110" y1="262" x2="1122" y2="271" stroke="#2a2a1a" stroke-width="0.9"/><line x1="1110" y1="266" x2="1122" y2="275" stroke="#2a2a1a" stroke-width="0.9"/><line x1="1110" y1="270" x2="1122" y2="279" stroke="#2a2a1a" stroke-width="0.9"/><line x1="1110" y1="274" x2="1122" y2="283" stroke="#2a2a1a" stroke-width="0.9"/><line x1="1110" y1="278" x2="1122" y2="287" stroke="#2a2a1a" stroke-width="0.9"/><line x1="1110" y1="282" x2="1122" y2="291" stroke="#2a2a1a" stroke-width="0.9"/><line x1="1110" y1="286" x2="1122" y2="295" stroke="#2a2a1a" stroke-width="0.9"/><line x1="1110" y1="290" x2="1122" y2="299" stroke="#2a2a1a" stroke-width="0.9"/><line x1="1110" y1="294" x2="1122" y2="303" stroke="#2a2a1a" stroke-width="0.9"/><line x1="1110" y1="298" x2="1122" y2="307" stroke="#2a2a1a" stroke-width="0.9"/><line x1="1110" y1="302" x2="1122" y2="311" stroke="#2a2a1a" stroke-width="0.9"/><line x1="1110" y1="306" x2="1122" y2="315" stroke="#2a2a1a" stroke-width="0.9"/><line x1="1110" y1="310" x2="1122" y2="319" stroke="#2a2a1a" stroke-width="0.9"/><line x1="1110" y1="314" x2="1122" y2="323" stroke="#2a2a1a" stroke-width="0.9"/><line x1="1110" y1="318" x2="1122" y2="327" stroke="#2a2a1a" stroke-width="0.9"/><line x1="1110" y1="322" x2="1122" y2="331" stroke="#2a2a1a" stroke-width="0.9"/><line x1="1110" y1="326" x2="1122" y2="335" stroke="#2a2a1a" stroke-width="0.9"/><line x1="1110" y1="330" x2="1122" y2="339" stroke="#2a2a1a" stroke-width="0.9"/><line x1="1110" y1="334" x2="1122" y2="343" stroke="#2a2a1a" stroke-width="0.9"/><line x1="1110" y1="338" x2="1122" y2="347" stroke="#2a2a1a" stroke-width="0.9"/></g><g clip-path="url(#hw2)"><line x1="1131" y1="250" x2="1142" y2="259" stroke="#2a2a1a" stroke-width="0.9"/><line x1="1131" y1="254" x2="1142" y2="263" stroke="#2a2a1a" stroke-width="0.9"/><line x1="1131" y1="258" x2="1142" y2="267" stroke="#2a2a1a" stroke-width="0.9"/><line x1="1131" y1="262" x2="1142" y2="271" stroke="#2a2a1a" stroke-width="0.9"/><line x1="1131" y1="266" x2="1142" y2="275" stroke="#2a2a1a" stroke-width="0.9"/><line x1="1131" y1="270" x2="1142" y2="279" stroke="#2a2a1a" stroke-width="0.9"/><line x1="1131" y1="274" x2="1142" y2="283" stroke="#2a2a1a" stroke-width="0.9"/><line x1="1131" y1="278" x2="1142" y2="287" stroke="#2a2a1a" stroke-width="0.9"/><line x1="1131" y1="282" x2="1142" y2="291" stroke="#2a2a1a" stroke-width="0.9"/><line x1="1131" y1="286" x2="1142" y2="295" stroke="#2a2a1a" stroke-width="0.9"/><line x1="1131" y1="290" x2="1142" y2="299" stroke="#2a2a1a" stroke-width="0.9"/><line x1="1131" y1="294" x2="1142" y2="303" stroke="#2a2a1a" stroke-width="0.9"/><line x1="1131" y1="298" x2="1142" y2="307" stroke="#2a2a1a" stroke-width="0.9"/><line x1="1131" y1="302" x2="1142" y2="311" stroke="#2a2a1a" stroke-width="0.9"/><line x1="1131" y1="306" x2="1142" y2="315" stroke="#2a2a1a" stroke-width="0.9"/><line x1="1131" y1="310" x2="1142" y2="319" stroke="#2a2a1a" stroke-width="0.9"/><line x1="1131" y1="314" x2="1142" y2="323" stroke="#2a2a1a" stroke-width="0.9"/><line x1="1131" y1="318" x2="1142" y2="327" stroke="#2a2a1a" stroke-width="0.9"/><line x1="1131" y1="322" x2="1142" y2="331" stroke="#2a2a1a" stroke-width="0.9"/><line x1="1131" y1="326" x2="1142" y2="335" stroke="#2a2a1a" stroke-width="0.9"/><line x1="1131" y1="330" x2="1142" y2="339" stroke="#2a2a1a" stroke-width="0.9"/><line x1="1131" y1="334" x2="1142" y2="343" stroke="#2a2a1a" stroke-width="0.9"/><line x1="1131" y1="338" x2="1142" y2="347" stroke="#2a2a1a" stroke-width="0.9"/></g><line x1="1119.5" y1="262.6" x2="1143.4" y2="262.6" stroke="#2a2a1a" stroke-width="1.1"/><rect x="1133.0" y="262.6" width="7.2" height="66.2" fill="none" stroke="#2a2a1a" stroke-width="1.1"/><line x1="1119.5" y1="328.8" x2="1143.4" y2="328.8" stroke="#2a2a1a" stroke-width="1.1"/><path d="M1131.4,262.6 L1131.4,270.6 L1121,270.6 L1121,325.6 L1131.4,325.6 L1131.4,297.7 L1128,297.7 L1128,322" fill="none" stroke="#2a2a1a" stroke-width="1.1"/><rect x="1121.0" y="316.0" width="5.6" height="9.6" fill="none" stroke="#2a2a1a" stroke-width="1.1"/><line x1="1112.3" y1="333.6" x2="1143.4" y2="333.6" stroke="#2a2a1a" stroke-width="1.1"/><path d="M1143.4,245 L1143.4,342.4 Q1149,338 1154.6,342.4 L1154.6,245 Q1149,249 1143.4,245 Z" fill="none" stroke="#2a2a1a" stroke-width="1.1"/><rect x="1154.6" y="259.0" width="16.7" height="3.0" fill="none" stroke="#2a2a1a" stroke-width="1.1"/><rect x="1154.6" y="330.0" width="16.7" height="3.0" fill="none" stroke="#2a2a1a" stroke-width="1.1"/><path d="M1128.2,370.3 L1128.2,359 Q1131,355.5 1133.8,359 L1133.8,370.3" fill="none" stroke="#2a2a1a" stroke-width="1.1"/><line x1="1128.2" y1="361.5" x2="1133.8" y2="361.5" stroke="#2a2a1a" stroke-width="1.1"/><rect x="1118.7" y="370.3" width="24.7" height="21.5" fill="none" stroke="#2a2a1a" stroke-width="1.1"/><line x1="1121.9" y1="370.3" x2="1121.9" y2="391.8" stroke="#2a2a1a" stroke-width="1.1"/><line x1="1140.2" y1="370.3" x2="1140.2" y2="391.8" stroke="#2a2a1a" stroke-width="1.1"/><rect x="1118.7" y="391.8" width="5.6" height="4.8" fill="none" stroke="#2a2a1a" stroke-width="1.1"/><rect x="1137.8" y="391.8" width="5.6" height="4.8" fill="none" stroke="#2a2a1a" stroke-width="1.1"/><rect x="1128.2" y="391.8" width="5.6" height="12.0" fill="none" stroke="#2a2a1a" stroke-width="1.1"/><rect x="1118.7" y="403.8" width="24.7" height="21.6" fill="none" stroke="#2a2a1a" stroke-width="1.1"/><line x1="1121.9" y1="403.8" x2="1121.9" y2="425.4" stroke="#2a2a1a" stroke-width="1.1"/><line x1="1140.2" y1="403.8" x2="1140.2" y2="425.4" stroke="#2a2a1a" stroke-width="1.1"/><rect x="1118.7" y="425.4" width="5.6" height="4.7" fill="none" stroke="#2a2a1a" stroke-width="1.1"/><rect x="1137.8" y="425.4" width="5.6" height="4.7" fill="none" stroke="#2a2a1a" stroke-width="1.1"/><path d="M1124.3,430.1 Q1124,434 1114,434 L1110.5,434 L1106,435 L1106,439 L1110.5,440 L1114,440 Q1127,440 1131,432" fill="none" stroke="#2a2a1a" stroke-width="1.1"/><line x1="1110.5" y1="434.0" x2="1110.5" y2="440.0" stroke="#2a2a1a" stroke-width="1.1"/><path d="M1137.8,430.1 Q1138,434 1148,434 L1151,434 L1155.4,435 L1155.4,439 L1151,440 L1148,440 Q1135,440 1131,432" fill="none" stroke="#2a2a1a" stroke-width="1.1"/><line x1="1151.0" y1="434.0" x2="1151.0" y2="440.0" stroke="#2a2a1a" stroke-width="1.1"/><path d="M1124.3,514.2 L1124.3,473 Q1128.8,470 1133.4,473 L1133.4,514.2" fill="none" stroke="#2a2a1a" stroke-width="1.1"/><line x1="1124.3" y1="475.0" x2="1133.4" y2="475.0" stroke="#2a2a1a" stroke-width="1.1"/><rect x="1109.2" y="514.2" width="38.6" height="33.5" fill="none" stroke="#2a2a1a" stroke-width="1.1"/><rect x="1109.2" y="547.7" width="8.3" height="5.6" fill="none" stroke="#2a2a1a" stroke-width="1.1"/><rect x="1140.0" y="547.7" width="7.8" height="5.6" fill="none" stroke="#2a2a1a" stroke-width="1.1"/><path d="M1124.3,547.7 L1124.3,572.5 Q1128.8,575.5 1133.4,572.5 L1133.4,547.7" fill="none" stroke="#2a2a1a" stroke-width="1.1"/><line x1="1124.3" y1="570.0" x2="1133.4" y2="570.0" stroke="#2a2a1a" stroke-width="1.1"/><path d="M1123.4,637 L1123.4,618 L1125,612.3 L1131,612.3 L1132.6,618 L1132.6,637" fill="none" stroke="#2a2a1a" stroke-width="1.1"/><line x1="1123.4" y1="618.0" x2="1132.6" y2="618.0" stroke="#2a2a1a" stroke-width="1.1"/><rect x="1108.4" y="637.0" width="40.2" height="34.3" fill="none" stroke="#2a2a1a" stroke-width="1.1"/><line x1="1114.3" y1="637.0" x2="1114.3" y2="671.3" stroke="#2a2a1a" stroke-width="1.1"/><line x1="1141.4" y1="637.0" x2="1141.4" y2="671.3" stroke="#2a2a1a" stroke-width="1.1"/><rect x="1108.4" y="671.3" width="9.1" height="7.2" fill="none" stroke="#2a2a1a" stroke-width="1.1"/><rect x="1139.5" y="671.3" width="9.1" height="7.2" fill="none" stroke="#2a2a1a" stroke-width="1.1"/><path d="M1123.4,671.3 L1123.4,700 L1125,705.6 L1131,705.6 L1132.6,700 L1132.6,671.3" fill="none" stroke="#2a2a1a" stroke-width="1.1"/><line x1="1123.4" y1="700.0" x2="1132.6" y2="700.0" stroke="#2a2a1a" stroke-width="1.1"/><path d="M1122.5,753.3 L1122.5,743 L1124.5,737.2 L1130,737.2 L1132,743 L1132,753.3" fill="none" stroke="#2a2a1a" stroke-width="1.1"/><line x1="1122.5" y1="743.0" x2="1132.0" y2="743.0" stroke="#2a2a1a" stroke-width="1.1"/><path d="M1107.3,753.3 L1147.9,753.3 L1147.9,794.3 L1137.5,794.3 L1137.5,787.8 L1117.7,787.8 L1117.7,794.3 L1107.3,794.3 Z" fill="none" stroke="#2a2a1a" stroke-width="1.1"/><line x1="1113.2" y1="753.3" x2="1113.2" y2="794.3" stroke="#2a2a1a" stroke-width="1.1"/><line x1="1141.9" y1="753.3" x2="1141.9" y2="794.3" stroke="#2a2a1a" stroke-width="1.1"/><path d="M1107.3,802.7 L1147.9,802.7 L1147.9,843.7 L1137.5,843.7 L1137.5,837.2 L1117.7,837.2 L1117.7,843.7 L1107.3,843.7 Z" fill="none" stroke="#2a2a1a" stroke-width="1.1"/><line x1="1113.2" y1="802.7" x2="1113.2" y2="843.7" stroke="#2a2a1a" stroke-width="1.1"/><line x1="1141.9" y1="802.7" x2="1141.9" y2="843.7" stroke="#2a2a1a" stroke-width="1.1"/><rect x="1122.5" y="787.8" width="9.5" height="14.9" fill="none" stroke="#2a2a1a" stroke-width="1.1"/><path d="M1122.5,844 L1122.5,866 L1124.5,871.8 L1130,871.8 L1132,866 L1132,844" fill="none" stroke="#2a2a1a" stroke-width="1.1"/><line x1="1122.5" y1="866.0" x2="1132.0" y2="866.0" stroke="#2a2a1a" stroke-width="1.1"/><rect x="1102.4" y="935.6" width="45.5" height="44.8" fill="none" stroke="#2a2a1a" stroke-width="1.1"/><line x1="1109.0" y1="935.6" x2="1109.0" y2="980.4" stroke="#2a2a1a" stroke-width="1.1"/><line x1="1140.5" y1="935.6" x2="1140.5" y2="980.4" stroke="#2a2a1a" stroke-width="1.1"/><path d="M1109,974.2 L1140.5,974.2" fill="none" stroke="#2a2a1a" stroke-width="1.1"/><path d="M1119.1,974.2 L1119.1,1008 L1121,1013.7 L1128.7,1013.7 L1130.6,1008 L1130.6,974.2" fill="none" stroke="#2a2a1a" stroke-width="1.1"/><line x1="1119.1" y1="1008.0" x2="1130.6" y2="1008.0" stroke="#2a2a1a" stroke-width="1.1"/><path d="M1119.1,935.6 L1119.1,928 Q1120,916.7 1133,916.7 L1157,916.7 L1164.4,918.5 L1164.4,925.7 L1157,927.5 L1135,927.5 Q1130.6,928 1130.6,935.6" fill="none" stroke="#2a2a1a" stroke-width="1.1"/><line x1="1157.0" y1="916.7" x2="1157.0" y2="927.5" stroke="#2a2a1a" stroke-width="1.1"/><rect x="911.3" y="950.5" width="69.1" height="5.0" fill="none" stroke="#2a2a1a" stroke-width="1.1"/><rect x="911.3" y="979.4" width="69.1" height="4.8" fill="none" stroke="#2a2a1a" stroke-width="1.1"/><rect x="917.6" y="955.5" width="62.8" height="23.9" fill="none" stroke="#2a2a1a" stroke-width="1.1"/><line x1="946.7" y1="950.5" x2="946.7" y2="984.2" stroke="#2a2a1a" stroke-width="1.1"/><line x1="951.6" y1="955.5" x2="951.6" y2="979.4" stroke="#2a2a1a" stroke-width="1.1"/><line x1="946.7" y1="962.0" x2="951.6" y2="962.0" stroke="#2a2a1a" stroke-width="1.1"/><line x1="946.7" y1="972.0" x2="951.6" y2="972.0" stroke="#2a2a1a" stroke-width="1.1"/><path d="M980.4,962.6 L986,962.6 L992.4,965 L992.4,969 L986,971.5 L980.4,971.5" fill="none" stroke="#2a2a1a" stroke-width="1.1"/><line x1="986.0" y1="962.6" x2="986.0" y2="971.5" stroke="#2a2a1a" stroke-width="1.1"/><path d="M917.6,962.2 L897,962.2 Q887.4,962.2 887.4,972 L887.4,1003 L889,1008.4 L894,1008.4 L895.7,1003 L895.7,975 Q895.7,971.5 900,971.5 L917.6,971.5" fill="none" stroke="#2a2a1a" stroke-width="1.1"/><line x1="887.4" y1="1003.0" x2="895.7" y2="1003.0" stroke="#2a2a1a" stroke-width="1.1"/><path d="M1034.7,963.5 L1034.7,946 L1036.5,940.4 L1042,940.4 L1043.5,946 L1043.5,963.5" fill="none" stroke="#2a2a1a" stroke-width="1.1"/><line x1="1034.7" y1="947.0" x2="1043.5" y2="947.0" stroke="#2a2a1a" stroke-width="1.1"/><rect x="1020.5" y="963.5" width="37.2" height="31.0" fill="none" stroke="#2a2a1a" stroke-width="1.1"/><line x1="1027.0" y1="963.5" x2="1027.0" y2="994.5" stroke="#2a2a1a" stroke-width="1.1"/><line x1="1051.9" y1="963.5" x2="1051.9" y2="994.5" stroke="#2a2a1a" stroke-width="1.1"/><rect x="1020.5" y="994.5" width="8.5" height="7.1" fill="none" stroke="#2a2a1a" stroke-width="1.1"/><rect x="1049.0" y="994.5" width="8.7" height="7.1" fill="none" stroke="#2a2a1a" stroke-width="1.1"/><path d="M1031,994.5 Q1031,1006 1016,1006 L1006,1006 L999.2,1008 L999.2,1013.5 L1006,1015.5 L1020,1015.5 Q1036,1015 1039,1000" fill="none" stroke="#2a2a1a" stroke-width="1.1"/><path d="M1047,994.5 Q1047,1006 1062,1006 L1072,1006 L1079,1008 L1079,1013.5 L1072,1015.5 L1058,1015.5 Q1042,1015 1039,1000" fill="none" stroke="#2a2a1a" stroke-width="1.1"/><line x1="1006.0" y1="1006.0" x2="1006.0" y2="1015.5" stroke="#2a2a1a" stroke-width="1.1"/><line x1="1072.0" y1="1006.0" x2="1072.0" y2="1015.5" stroke="#2a2a1a" stroke-width="1.1"/></svg>
<div class="t" style="left:1080.80px;top:206.88px;font-size:15.5px;font-weight:400;color:#161616;letter-spacing:1.45px;-webkit-text-stroke:0.15px #161616;">Mating with</div>
<div class="t" style="left:1094.20px;top:450.30px;font-size:13px;font-weight:400;color:#2d3340;letter-spacing:0.95px;">MMHC102</div>
<div class="t" style="left:1089.10px;top:581.70px;font-size:13px;font-weight:400;color:#2d3340;letter-spacing:0.95px;">MMHA114</div>
<div class="t" style="left:1089.10px;top:713.40px;font-size:13px;font-weight:400;color:#2d3340;letter-spacing:0.95px;">MMHA101</div>
<div class="t" style="left:1091.20px;top:883.30px;font-size:13px;font-weight:400;color:#2d3340;letter-spacing:0.95px;">MMHA102</div>
<div class="t" style="left:1089.40px;top:1024.20px;font-size:13px;font-weight:400;color:#2d3340;letter-spacing:0.95px;">MMHB101</div>
<div class="t" style="left:889.00px;top:1022.60px;font-size:13px;font-weight:400;color:#2d3340;letter-spacing:0.95px;">MMHB102</div>
<div class="t" style="left:1002.20px;top:1026.10px;font-size:13px;font-weight:400;color:#2d3340;letter-spacing:0.95px;">MMHC101</div>
<div class="r" style="left:77.00px;top:1058.20px;width:271.30px;height:45.60px;background:#c0e1dd;"></div>
<div class="r" style="left:77.00px;top:1103.80px;width:271.30px;height:24.91px;background:#ffffff;"></div>
<div class="r" style="left:77.00px;top:1125.81px;width:271.30px;height:24.91px;background:#c0e1dd;"></div>
<div class="r" style="left:77.00px;top:1147.82px;width:271.30px;height:24.91px;background:#ffffff;"></div>
<div class="r" style="left:77.00px;top:1169.83px;width:271.30px;height:24.91px;background:#c0e1dd;"></div>
<div class="r" style="left:77.00px;top:1191.84px;width:271.30px;height:24.91px;background:#ffffff;"></div>
<div class="r" style="left:77.00px;top:1213.85px;width:271.30px;height:24.91px;background:#c0e1dd;"></div>
<div class="r" style="left:77.00px;top:1235.86px;width:271.30px;height:24.91px;background:#ffffff;"></div>
<div class="r" style="left:77.00px;top:1257.87px;width:271.30px;height:24.91px;background:#c0e1dd;"></div>
<div class="r" style="left:77.00px;top:1279.88px;width:271.30px;height:24.91px;background:#ffffff;"></div>
<div class="r" style="left:77.00px;top:1301.89px;width:271.30px;height:24.91px;background:#c0e1dd;"></div>
<div class="r" style="left:77.00px;top:1058.20px;width:271.30px;height:2.90px;background:#1d2727;"></div>
<div class="r" style="left:169.40px;top:1080.20px;width:178.90px;height:2.90px;background:#1d2727;"></div>
<div class="r" style="left:77.00px;top:1103.80px;width:271.30px;height:2.90px;background:#1d2727;"></div>
<div class="r" style="left:77.00px;top:1125.81px;width:271.30px;height:2.90px;background:#1d2727;"></div>
<div class="r" style="left:77.00px;top:1147.82px;width:271.30px;height:2.90px;background:#1d2727;"></div>
<div class="r" style="left:77.00px;top:1169.83px;width:271.30px;height:2.90px;background:#1d2727;"></div>
<div class="r" style="left:77.00px;top:1191.84px;width:271.30px;height:2.90px;background:#1d2727;"></div>
<div class="r" style="left:77.00px;top:1213.85px;width:271.30px;height:2.90px;background:#1d2727;"></div>
<div class="r" style="left:77.00px;top:1235.86px;width:271.30px;height:2.90px;background:#1d2727;"></div>
<div class="r" style="left:77.00px;top:1257.87px;width:271.30px;height:2.90px;background:#1d2727;"></div>
<div class="r" style="left:77.00px;top:1279.88px;width:271.30px;height:2.90px;background:#1d2727;"></div>
<div class="r" style="left:77.00px;top:1301.89px;width:271.30px;height:2.90px;background:#1d2727;"></div>
<div class="r" style="left:77.00px;top:1323.90px;width:271.30px;height:2.90px;background:#1d2727;"></div>
<div class="r" style="left:77.00px;top:1058.20px;width:2.90px;height:268.60px;background:#1d2727;"></div>
<div class="r" style="left:169.40px;top:1058.20px;width:2.90px;height:268.60px;background:#1d2727;"></div>
<div class="r" style="left:257.00px;top:1080.20px;width:2.90px;height:246.60px;background:#1d2727;"></div>
<div class="r" style="left:345.30px;top:1058.20px;width:3.00px;height:268.60px;background:#1d2727;"></div>
<div class="t" style="left:125.15px;top:1063.28px;font-size:15.5px;font-weight:400;color:#1e1e1e;letter-spacing:0.85px;transform:translateX(-50%) scaleX(1.0);transform-origin:50% 0;">No. of</div>
<div class="t" style="left:124.65px;top:1084.08px;font-size:15.5px;font-weight:400;color:#1e1e1e;letter-spacing:0.5px;transform:translateX(-50%) scaleX(1.0);transform-origin:50% 0;">Pins/Row</div>
<div class="t" style="left:259.30px;top:1062.60px;font-size:15px;font-weight:400;color:#1e1e1e;letter-spacing:1.1px;transform:translateX(-50%) scaleX(1.0);transform-origin:50% 0;">Dimension Infomation</div>
<div class="t" style="left:214.65px;top:1086.40px;font-size:15px;font-weight:400;color:#1e1e1e;letter-spacing:0px;transform:translateX(-50%) scaleX(1.0);transform-origin:50% 0;">C</div>
<div class="t" style="left:302.60px;top:1086.40px;font-size:15px;font-weight:400;color:#1e1e1e;letter-spacing:0px;transform:translateX(-50%) scaleX(1.0);transform-origin:50% 0;">D</div>
<div class="t" style="left:125.15px;top:1109.28px;font-size:15.5px;font-weight:400;color:#1e1e1e;letter-spacing:0.4px;transform:translateX(-50%) scaleX(1.0);transform-origin:50% 0;">02</div>
<div class="t" style="left:212.15px;top:1109.28px;font-size:15.5px;font-weight:400;color:#1e1e1e;letter-spacing:0.6px;transform:translateX(-50%) scaleX(1.0);transform-origin:50% 0;">2.54</div>
<div class="t" style="left:300.10px;top:1109.28px;font-size:15.5px;font-weight:400;color:#1e1e1e;letter-spacing:0.6px;transform:translateX(-50%) scaleX(1.0);transform-origin:50% 0;">5.58</div>
<div class="t" style="left:125.15px;top:1131.29px;font-size:15.5px;font-weight:400;color:#1e1e1e;letter-spacing:0.4px;transform:translateX(-50%) scaleX(1.0);transform-origin:50% 0;">03</div>
<div class="t" style="left:212.15px;top:1131.29px;font-size:15.5px;font-weight:400;color:#1e1e1e;letter-spacing:0.6px;transform:translateX(-50%) scaleX(1.0);transform-origin:50% 0;">5.08</div>
<div class="t" style="left:300.10px;top:1131.29px;font-size:15.5px;font-weight:400;color:#1e1e1e;letter-spacing:0.6px;transform:translateX(-50%) scaleX(1.0);transform-origin:50% 0;">8.12</div>
<div class="t" style="left:125.15px;top:1153.30px;font-size:15.5px;font-weight:400;color:#1e1e1e;letter-spacing:0.4px;transform:translateX(-50%) scaleX(1.0);transform-origin:50% 0;">04</div>
<div class="t" style="left:212.15px;top:1153.30px;font-size:15.5px;font-weight:400;color:#1e1e1e;letter-spacing:0.6px;transform:translateX(-50%) scaleX(1.0);transform-origin:50% 0;">7.62</div>
<div class="t" style="left:300.10px;top:1153.30px;font-size:15.5px;font-weight:400;color:#1e1e1e;letter-spacing:0.6px;transform:translateX(-50%) scaleX(1.0);transform-origin:50% 0;">10.66</div>
<div class="t" style="left:125.15px;top:1175.31px;font-size:15.5px;font-weight:400;color:#1e1e1e;letter-spacing:0.4px;transform:translateX(-50%) scaleX(1.0);transform-origin:50% 0;">05</div>
<div class="t" style="left:212.15px;top:1175.31px;font-size:15.5px;font-weight:400;color:#1e1e1e;letter-spacing:0.6px;transform:translateX(-50%) scaleX(1.0);transform-origin:50% 0;">10.16</div>
<div class="t" style="left:300.10px;top:1175.31px;font-size:15.5px;font-weight:400;color:#1e1e1e;letter-spacing:0.6px;transform:translateX(-50%) scaleX(1.0);transform-origin:50% 0;">13.20</div>
<div class="t" style="left:125.15px;top:1197.32px;font-size:15.5px;font-weight:400;color:#1e1e1e;letter-spacing:0.4px;transform:translateX(-50%) scaleX(1.0);transform-origin:50% 0;">06</div>
<div class="t" style="left:212.15px;top:1197.32px;font-size:15.5px;font-weight:400;color:#1e1e1e;letter-spacing:0.6px;transform:translateX(-50%) scaleX(1.0);transform-origin:50% 0;">12.70</div>
<div class="t" style="left:300.10px;top:1197.32px;font-size:15.5px;font-weight:400;color:#1e1e1e;letter-spacing:0.6px;transform:translateX(-50%) scaleX(1.0);transform-origin:50% 0;">15.74</div>
<div class="t" style="left:125.15px;top:1219.33px;font-size:15.5px;font-weight:400;color:#1e1e1e;letter-spacing:0.4px;transform:translateX(-50%) scaleX(1.0);transform-origin:50% 0;">07</div>
<div class="t" style="left:212.15px;top:1219.33px;font-size:15.5px;font-weight:400;color:#1e1e1e;letter-spacing:0.6px;transform:translateX(-50%) scaleX(1.0);transform-origin:50% 0;">15.24</div>
<div class="t" style="left:300.10px;top:1219.33px;font-size:15.5px;font-weight:400;color:#1e1e1e;letter-spacing:0.6px;transform:translateX(-50%) scaleX(1.0);transform-origin:50% 0;">18.28</div>
<div class="t" style="left:125.15px;top:1241.34px;font-size:15.5px;font-weight:400;color:#1e1e1e;letter-spacing:0.4px;transform:translateX(-50%) scaleX(1.0);transform-origin:50% 0;">08</div>
<div class="t" style="left:212.15px;top:1241.34px;font-size:15.5px;font-weight:400;color:#1e1e1e;letter-spacing:0.6px;transform:translateX(-50%) scaleX(1.0);transform-origin:50% 0;">17.78</div>
<div class="t" style="left:300.10px;top:1241.34px;font-size:15.5px;font-weight:400;color:#1e1e1e;letter-spacing:0.6px;transform:translateX(-50%) scaleX(1.0);transform-origin:50% 0;">20.82</div>
<div class="t" style="left:125.15px;top:1263.35px;font-size:15.5px;font-weight:400;color:#1e1e1e;letter-spacing:0.4px;transform:translateX(-50%) scaleX(1.0);transform-origin:50% 0;">09</div>
<div class="t" style="left:212.15px;top:1263.35px;font-size:15.5px;font-weight:400;color:#1e1e1e;letter-spacing:0.6px;transform:translateX(-50%) scaleX(1.0);transform-origin:50% 0;">20.32</div>
<div class="t" style="left:300.10px;top:1263.35px;font-size:15.5px;font-weight:400;color:#1e1e1e;letter-spacing:0.6px;transform:translateX(-50%) scaleX(1.0);transform-origin:50% 0;">23.36</div>
<div class="t" style="left:125.15px;top:1285.36px;font-size:15.5px;font-weight:400;color:#1e1e1e;letter-spacing:0.4px;transform:translateX(-50%) scaleX(1.0);transform-origin:50% 0;">10</div>
<div class="t" style="left:212.15px;top:1285.36px;font-size:15.5px;font-weight:400;color:#1e1e1e;letter-spacing:0.6px;transform:translateX(-50%) scaleX(1.0);transform-origin:50% 0;">22.86</div>
<div class="t" style="left:300.10px;top:1285.36px;font-size:15.5px;font-weight:400;color:#1e1e1e;letter-spacing:0.6px;transform:translateX(-50%) scaleX(1.0);transform-origin:50% 0;">25.90</div>
<div class="t" style="left:125.15px;top:1307.37px;font-size:15.5px;font-weight:400;color:#1e1e1e;letter-spacing:0.4px;transform:translateX(-50%) scaleX(1.0);transform-origin:50% 0;">11</div>
<div class="t" style="left:212.15px;top:1307.37px;font-size:15.5px;font-weight:400;color:#1e1e1e;letter-spacing:0.6px;transform:translateX(-50%) scaleX(1.0);transform-origin:50% 0;">25.40</div>
<div class="t" style="left:300.10px;top:1307.37px;font-size:15.5px;font-weight:400;color:#1e1e1e;letter-spacing:0.6px;transform:translateX(-50%) scaleX(1.0);transform-origin:50% 0;">28.44</div>
<div class="r" style="left:352.40px;top:1058.20px;width:270.10px;height:45.60px;background:#c0e1dd;"></div>
<div class="r" style="left:352.40px;top:1103.80px;width:270.10px;height:24.91px;background:#ffffff;"></div>
<div class="r" style="left:352.40px;top:1125.81px;width:270.10px;height:24.91px;background:#c0e1dd;"></div>
<div class="r" style="left:352.40px;top:1147.82px;width:270.10px;height:24.91px;background:#ffffff;"></div>
<div class="r" style="left:352.40px;top:1169.83px;width:270.10px;height:24.91px;background:#c0e1dd;"></div>
<div class="r" style="left:352.40px;top:1191.84px;width:270.10px;height:24.91px;background:#ffffff;"></div>
<div class="r" style="left:352.40px;top:1213.85px;width:270.10px;height:24.91px;background:#c0e1dd;"></div>
<div class="r" style="left:352.40px;top:1235.86px;width:270.10px;height:24.91px;background:#ffffff;"></div>
<div class="r" style="left:352.40px;top:1257.87px;width:270.10px;height:24.91px;background:#c0e1dd;"></div>
<div class="r" style="left:352.40px;top:1279.88px;width:270.10px;height:24.91px;background:#ffffff;"></div>
<div class="r" style="left:352.40px;top:1301.89px;width:270.10px;height:24.91px;background:#c0e1dd;"></div>
<div class="r" style="left:352.40px;top:1058.20px;width:270.10px;height:2.90px;background:#1d2727;"></div>
<div class="r" style="left:443.10px;top:1080.20px;width:179.40px;height:2.90px;background:#1d2727;"></div>
<div class="r" style="left:352.40px;top:1103.80px;width:270.10px;height:2.90px;background:#1d2727;"></div>
<div class="r" style="left:352.40px;top:1125.81px;width:270.10px;height:2.90px;background:#1d2727;"></div>
<div class="r" style="left:352.40px;top:1147.82px;width:270.10px;height:2.90px;background:#1d2727;"></div>
<div class="r" style="left:352.40px;top:1169.83px;width:270.10px;height:2.90px;background:#1d2727;"></div>
<div class="r" style="left:352.40px;top:1191.84px;width:270.10px;height:2.90px;background:#1d2727;"></div>
<div class="r" style="left:352.40px;top:1213.85px;width:270.10px;height:2.90px;background:#1d2727;"></div>
<div class="r" style="left:352.40px;top:1235.86px;width:270.10px;height:2.90px;background:#1d2727;"></div>
<div class="r" style="left:352.40px;top:1257.87px;width:270.10px;height:2.90px;background:#1d2727;"></div>
<div class="r" style="left:352.40px;top:1279.88px;width:270.10px;height:2.90px;background:#1d2727;"></div>
<div class="r" style="left:352.40px;top:1301.89px;width:270.10px;height:2.90px;background:#1d2727;"></div>
<div class="r" style="left:352.40px;top:1323.90px;width:270.10px;height:2.90px;background:#1d2727;"></div>
<div class="r" style="left:352.40px;top:1058.20px;width:2.90px;height:268.60px;background:#1d2727;"></div>
<div class="r" style="left:443.10px;top:1058.20px;width:2.90px;height:268.60px;background:#1d2727;"></div>
<div class="r" style="left:530.30px;top:1080.20px;width:2.90px;height:246.60px;background:#1d2727;"></div>
<div class="r" style="left:619.20px;top:1058.20px;width:3.30px;height:268.60px;background:#1d2727;"></div>
<div class="t" style="left:399.70px;top:1063.28px;font-size:15.5px;font-weight:400;color:#1e1e1e;letter-spacing:0.85px;transform:translateX(-50%) scaleX(1.0);transform-origin:50% 0;">No. of</div>
<div class="t" style="left:399.20px;top:1084.08px;font-size:15.5px;font-weight:400;color:#1e1e1e;letter-spacing:0.5px;transform:translateX(-50%) scaleX(1.0);transform-origin:50% 0;">Pins/Row</div>
<div class="t" style="left:533.10px;top:1062.60px;font-size:15px;font-weight:400;color:#1e1e1e;letter-spacing:1.1px;transform:translateX(-50%) scaleX(1.0);transform-origin:50% 0;">Dimension Infomation</div>
<div class="t" style="left:488.15px;top:1086.40px;font-size:15px;font-weight:400;color:#1e1e1e;letter-spacing:0px;transform:translateX(-50%) scaleX(1.0);transform-origin:50% 0;">C</div>
<div class="t" style="left:576.20px;top:1086.40px;font-size:15px;font-weight:400;color:#1e1e1e;letter-spacing:0px;transform:translateX(-50%) scaleX(1.0);transform-origin:50% 0;">D</div>
<div class="t" style="left:399.70px;top:1109.28px;font-size:15.5px;font-weight:400;color:#1e1e1e;letter-spacing:0.4px;transform:translateX(-50%) scaleX(1.0);transform-origin:50% 0;">12</div>
<div class="t" style="left:485.65px;top:1109.28px;font-size:15.5px;font-weight:400;color:#1e1e1e;letter-spacing:0.6px;transform:translateX(-50%) scaleX(1.0);transform-origin:50% 0;">27.94</div>
<div class="t" style="left:573.70px;top:1109.28px;font-size:15.5px;font-weight:400;color:#1e1e1e;letter-spacing:0.6px;transform:translateX(-50%) scaleX(1.0);transform-origin:50% 0;">30.98</div>
<div class="t" style="left:399.70px;top:1131.29px;font-size:15.5px;font-weight:400;color:#1e1e1e;letter-spacing:0.4px;transform:translateX(-50%) scaleX(1.0);transform-origin:50% 0;">13</div>
<div class="t" style="left:485.65px;top:1131.29px;font-size:15.5px;font-weight:400;color:#1e1e1e;letter-spacing:0.6px;transform:translateX(-50%) scaleX(1.0);transform-origin:50% 0;">30.48</div>
<div class="t" style="left:573.70px;top:1131.29px;font-size:15.5px;font-weight:400;color:#1e1e1e;letter-spacing:0.6px;transform:translateX(-50%) scaleX(1.0);transform-origin:50% 0;">33.52</div>
<div class="t" style="left:399.70px;top:1153.30px;font-size:15.5px;font-weight:400;color:#1e1e1e;letter-spacing:0.4px;transform:translateX(-50%) scaleX(1.0);transform-origin:50% 0;">14</div>
<div class="t" style="left:485.65px;top:1153.30px;font-size:15.5px;font-weight:400;color:#1e1e1e;letter-spacing:0.6px;transform:translateX(-50%) scaleX(1.0);transform-origin:50% 0;">33.02</div>
<div class="t" style="left:573.70px;top:1153.30px;font-size:15.5px;font-weight:400;color:#1e1e1e;letter-spacing:0.6px;transform:translateX(-50%) scaleX(1.0);transform-origin:50% 0;">36.06</div>
<div class="t" style="left:399.70px;top:1175.31px;font-size:15.5px;font-weight:400;color:#1e1e1e;letter-spacing:0.4px;transform:translateX(-50%) scaleX(1.0);transform-origin:50% 0;">15</div>
<div class="t" style="left:485.65px;top:1175.31px;font-size:15.5px;font-weight:400;color:#1e1e1e;letter-spacing:0.6px;transform:translateX(-50%) scaleX(1.0);transform-origin:50% 0;">35.56</div>
<div class="t" style="left:573.70px;top:1175.31px;font-size:15.5px;font-weight:400;color:#1e1e1e;letter-spacing:0.6px;transform:translateX(-50%) scaleX(1.0);transform-origin:50% 0;">38.60</div>
<div class="t" style="left:399.70px;top:1197.32px;font-size:15.5px;font-weight:400;color:#1e1e1e;letter-spacing:0.4px;transform:translateX(-50%) scaleX(1.0);transform-origin:50% 0;">16</div>
<div class="t" style="left:485.65px;top:1197.32px;font-size:15.5px;font-weight:400;color:#1e1e1e;letter-spacing:0.6px;transform:translateX(-50%) scaleX(1.0);transform-origin:50% 0;">38.10</div>
<div class="t" style="left:573.70px;top:1197.32px;font-size:15.5px;font-weight:400;color:#1e1e1e;letter-spacing:0.6px;transform:translateX(-50%) scaleX(1.0);transform-origin:50% 0;">41.14</div>
<div class="t" style="left:399.70px;top:1219.33px;font-size:15.5px;font-weight:400;color:#1e1e1e;letter-spacing:0.4px;transform:translateX(-50%) scaleX(1.0);transform-origin:50% 0;">17</div>
<div class="t" style="left:485.65px;top:1219.33px;font-size:15.5px;font-weight:400;color:#1e1e1e;letter-spacing:0.6px;transform:translateX(-50%) scaleX(1.0);transform-origin:50% 0;">40.64</div>
<div class="t" style="left:573.70px;top:1219.33px;font-size:15.5px;font-weight:400;color:#1e1e1e;letter-spacing:0.6px;transform:translateX(-50%) scaleX(1.0);transform-origin:50% 0;">43.68</div>
<div class="t" style="left:399.70px;top:1241.34px;font-size:15.5px;font-weight:400;color:#1e1e1e;letter-spacing:0.4px;transform:translateX(-50%) scaleX(1.0);transform-origin:50% 0;">18</div>
<div class="t" style="left:485.65px;top:1241.34px;font-size:15.5px;font-weight:400;color:#1e1e1e;letter-spacing:0.6px;transform:translateX(-50%) scaleX(1.0);transform-origin:50% 0;">43.18</div>
<div class="t" style="left:573.70px;top:1241.34px;font-size:15.5px;font-weight:400;color:#1e1e1e;letter-spacing:0.6px;transform:translateX(-50%) scaleX(1.0);transform-origin:50% 0;">46.22</div>
<div class="t" style="left:399.70px;top:1263.35px;font-size:15.5px;font-weight:400;color:#1e1e1e;letter-spacing:0.4px;transform:translateX(-50%) scaleX(1.0);transform-origin:50% 0;">19</div>
<div class="t" style="left:485.65px;top:1263.35px;font-size:15.5px;font-weight:400;color:#1e1e1e;letter-spacing:0.6px;transform:translateX(-50%) scaleX(1.0);transform-origin:50% 0;">45.72</div>
<div class="t" style="left:573.70px;top:1263.35px;font-size:15.5px;font-weight:400;color:#1e1e1e;letter-spacing:0.6px;transform:translateX(-50%) scaleX(1.0);transform-origin:50% 0;">48.76</div>
<div class="t" style="left:399.70px;top:1285.36px;font-size:15.5px;font-weight:400;color:#1e1e1e;letter-spacing:0.4px;transform:translateX(-50%) scaleX(1.0);transform-origin:50% 0;">20</div>
<div class="t" style="left:485.65px;top:1285.36px;font-size:15.5px;font-weight:400;color:#1e1e1e;letter-spacing:0.6px;transform:translateX(-50%) scaleX(1.0);transform-origin:50% 0;">48.26</div>
<div class="t" style="left:573.70px;top:1285.36px;font-size:15.5px;font-weight:400;color:#1e1e1e;letter-spacing:0.6px;transform:translateX(-50%) scaleX(1.0);transform-origin:50% 0;">51.30</div>
<div class="t" style="left:399.70px;top:1307.37px;font-size:15.5px;font-weight:400;color:#1e1e1e;letter-spacing:0.4px;transform:translateX(-50%) scaleX(1.0);transform-origin:50% 0;">21</div>
<div class="t" style="left:485.65px;top:1307.37px;font-size:15.5px;font-weight:400;color:#1e1e1e;letter-spacing:0.6px;transform:translateX(-50%) scaleX(1.0);transform-origin:50% 0;">50.80</div>
<div class="t" style="left:573.70px;top:1307.37px;font-size:15.5px;font-weight:400;color:#1e1e1e;letter-spacing:0.6px;transform:translateX(-50%) scaleX(1.0);transform-origin:50% 0;">53.84</div>
<div class="r" style="left:627.40px;top:1058.20px;width:270.10px;height:45.60px;background:#c0e1dd;"></div>
<div class="r" style="left:627.40px;top:1103.80px;width:270.10px;height:24.91px;background:#ffffff;"></div>
<div class="r" style="left:627.40px;top:1125.81px;width:270.10px;height:24.91px;background:#c0e1dd;"></div>
<div class="r" style="left:627.40px;top:1147.82px;width:270.10px;height:24.91px;background:#ffffff;"></div>
<div class="r" style="left:627.40px;top:1169.83px;width:270.10px;height:24.91px;background:#c0e1dd;"></div>
<div class="r" style="left:627.40px;top:1191.84px;width:270.10px;height:24.91px;background:#ffffff;"></div>
<div class="r" style="left:627.40px;top:1213.85px;width:270.10px;height:24.91px;background:#c0e1dd;"></div>
<div class="r" style="left:627.40px;top:1235.86px;width:270.10px;height:24.91px;background:#ffffff;"></div>
<div class="r" style="left:627.40px;top:1257.87px;width:270.10px;height:24.91px;background:#c0e1dd;"></div>
<div class="r" style="left:627.40px;top:1279.88px;width:270.10px;height:24.91px;background:#ffffff;"></div>
<div class="r" style="left:627.40px;top:1301.89px;width:270.10px;height:24.91px;background:#c0e1dd;"></div>
<div class="r" style="left:627.40px;top:1058.20px;width:270.10px;height:2.90px;background:#1d2727;"></div>
<div class="r" style="left:717.90px;top:1080.20px;width:179.60px;height:2.90px;background:#1d2727;"></div>
<div class="r" style="left:627.40px;top:1103.80px;width:270.10px;height:2.90px;background:#1d2727;"></div>
<div class="r" style="left:627.40px;top:1125.81px;width:270.10px;height:2.90px;background:#1d2727;"></div>
<div class="r" style="left:627.40px;top:1147.82px;width:270.10px;height:2.90px;background:#1d2727;"></div>
<div class="r" style="left:627.40px;top:1169.83px;width:270.10px;height:2.90px;background:#1d2727;"></div>
<div class="r" style="left:627.40px;top:1191.84px;width:270.10px;height:2.90px;background:#1d2727;"></div>
<div class="r" style="left:627.40px;top:1213.85px;width:270.10px;height:2.90px;background:#1d2727;"></div>
<div class="r" style="left:627.40px;top:1235.86px;width:270.10px;height:2.90px;background:#1d2727;"></div>
<div class="r" style="left:627.40px;top:1257.87px;width:270.10px;height:2.90px;background:#1d2727;"></div>
<div class="r" style="left:627.40px;top:1279.88px;width:270.10px;height:2.90px;background:#1d2727;"></div>
<div class="r" style="left:627.40px;top:1301.89px;width:270.10px;height:2.90px;background:#1d2727;"></div>
<div class="r" style="left:627.40px;top:1323.90px;width:270.10px;height:2.90px;background:#1d2727;"></div>
<div class="r" style="left:627.40px;top:1058.20px;width:2.90px;height:268.60px;background:#1d2727;"></div>
<div class="r" style="left:717.90px;top:1058.20px;width:2.90px;height:268.60px;background:#1d2727;"></div>
<div class="r" style="left:806.20px;top:1080.20px;width:2.90px;height:246.60px;background:#1d2727;"></div>
<div class="r" style="left:894.00px;top:1058.20px;width:3.50px;height:268.60px;background:#1d2727;"></div>
<div class="t" style="left:674.60px;top:1063.28px;font-size:15.5px;font-weight:400;color:#1e1e1e;letter-spacing:0.85px;transform:translateX(-50%) scaleX(1.0);transform-origin:50% 0;">No. of</div>
<div class="t" style="left:674.10px;top:1084.08px;font-size:15.5px;font-weight:400;color:#1e1e1e;letter-spacing:0.5px;transform:translateX(-50%) scaleX(1.0);transform-origin:50% 0;">Pins/Row</div>
<div class="t" style="left:807.90px;top:1062.60px;font-size:15px;font-weight:400;color:#1e1e1e;letter-spacing:0.85px;transform:translateX(-50%) scaleX(1.0);transform-origin:50% 0;">Dimension Information</div>
<div class="t" style="left:763.50px;top:1086.40px;font-size:15px;font-weight:400;color:#1e1e1e;letter-spacing:0px;transform:translateX(-50%) scaleX(1.0);transform-origin:50% 0;">C</div>
<div class="t" style="left:851.55px;top:1086.40px;font-size:15px;font-weight:400;color:#1e1e1e;letter-spacing:0px;transform:translateX(-50%) scaleX(1.0);transform-origin:50% 0;">D</div>
<div class="t" style="left:674.60px;top:1109.28px;font-size:15.5px;font-weight:400;color:#1e1e1e;letter-spacing:0.4px;transform:translateX(-50%) scaleX(1.0);transform-origin:50% 0;">22</div>
<div class="t" style="left:761.00px;top:1109.28px;font-size:15.5px;font-weight:400;color:#1e1e1e;letter-spacing:0.6px;transform:translateX(-50%) scaleX(1.0);transform-origin:50% 0;">53.34</div>
<div class="t" style="left:849.05px;top:1109.28px;font-size:15.5px;font-weight:400;color:#1e1e1e;letter-spacing:0.6px;transform:translateX(-50%) scaleX(1.0);transform-origin:50% 0;">56.38</div>
<div class="t" style="left:674.60px;top:1131.29px;font-size:15.5px;font-weight:400;color:#1e1e1e;letter-spacing:0.4px;transform:translateX(-50%) scaleX(1.0);transform-origin:50% 0;">23</div>
<div class="t" style="left:761.00px;top:1131.29px;font-size:15.5px;font-weight:400;color:#1e1e1e;letter-spacing:0.6px;transform:translateX(-50%) scaleX(1.0);transform-origin:50% 0;">55.88</div>
<div class="t" style="left:849.05px;top:1131.29px;font-size:15.5px;font-weight:400;color:#1e1e1e;letter-spacing:0.6px;transform:translateX(-50%) scaleX(1.0);transform-origin:50% 0;">58.92</div>
<div class="t" style="left:674.60px;top:1153.30px;font-size:15.5px;font-weight:400;color:#1e1e1e;letter-spacing:0.4px;transform:translateX(-50%) scaleX(1.0);transform-origin:50% 0;">24</div>
<div class="t" style="left:761.00px;top:1153.30px;font-size:15.5px;font-weight:400;color:#1e1e1e;letter-spacing:0.6px;transform:translateX(-50%) scaleX(1.0);transform-origin:50% 0;">58.42</div>
<div class="t" style="left:849.05px;top:1153.30px;font-size:15.5px;font-weight:400;color:#1e1e1e;letter-spacing:0.6px;transform:translateX(-50%) scaleX(1.0);transform-origin:50% 0;">61.46</div>
<div class="t" style="left:674.60px;top:1175.31px;font-size:15.5px;font-weight:400;color:#1e1e1e;letter-spacing:0.4px;transform:translateX(-50%) scaleX(1.0);transform-origin:50% 0;">25</div>
<div class="t" style="left:761.00px;top:1175.31px;font-size:15.5px;font-weight:400;color:#1e1e1e;letter-spacing:0.6px;transform:translateX(-50%) scaleX(1.0);transform-origin:50% 0;">60.96</div>
<div class="t" style="left:849.05px;top:1175.31px;font-size:15.5px;font-weight:400;color:#1e1e1e;letter-spacing:0.6px;transform:translateX(-50%) scaleX(1.0);transform-origin:50% 0;">64.00</div>
<div class="t" style="left:674.60px;top:1197.32px;font-size:15.5px;font-weight:400;color:#1e1e1e;letter-spacing:0.4px;transform:translateX(-50%) scaleX(1.0);transform-origin:50% 0;">26</div>
<div class="t" style="left:761.00px;top:1197.32px;font-size:15.5px;font-weight:400;color:#1e1e1e;letter-spacing:0.6px;transform:translateX(-50%) scaleX(1.0);transform-origin:50% 0;">63.50</div>
<div class="t" style="left:849.05px;top:1197.32px;font-size:15.5px;font-weight:400;color:#1e1e1e;letter-spacing:0.6px;transform:translateX(-50%) scaleX(1.0);transform-origin:50% 0;">66.54</div>
<div class="t" style="left:674.60px;top:1219.33px;font-size:15.5px;font-weight:400;color:#1e1e1e;letter-spacing:0.4px;transform:translateX(-50%) scaleX(1.0);transform-origin:50% 0;">27</div>
<div class="t" style="left:761.00px;top:1219.33px;font-size:15.5px;font-weight:400;color:#1e1e1e;letter-spacing:0.6px;transform:translateX(-50%) scaleX(1.0);transform-origin:50% 0;">66.04</div>
<div class="t" style="left:849.05px;top:1219.33px;font-size:15.5px;font-weight:400;color:#1e1e1e;letter-spacing:0.6px;transform:translateX(-50%) scaleX(1.0);transform-origin:50% 0;">69.08</div>
<div class="t" style="left:674.60px;top:1241.34px;font-size:15.5px;font-weight:400;color:#1e1e1e;letter-spacing:0.4px;transform:translateX(-50%) scaleX(1.0);transform-origin:50% 0;">28</div>
<div class="t" style="left:761.00px;top:1241.34px;font-size:15.5px;font-weight:400;color:#1e1e1e;letter-spacing:0.6px;transform:translateX(-50%) scaleX(1.0);transform-origin:50% 0;">68.58</div>
<div class="t" style="left:849.05px;top:1241.34px;font-size:15.5px;font-weight:400;color:#1e1e1e;letter-spacing:0.6px;transform:translateX(-50%) scaleX(1.0);transform-origin:50% 0;">71.62</div>
<div class="t" style="left:674.60px;top:1263.35px;font-size:15.5px;font-weight:400;color:#1e1e1e;letter-spacing:0.4px;transform:translateX(-50%) scaleX(1.0);transform-origin:50% 0;">29</div>
<div class="t" style="left:761.00px;top:1263.35px;font-size:15.5px;font-weight:400;color:#1e1e1e;letter-spacing:0.6px;transform:translateX(-50%) scaleX(1.0);transform-origin:50% 0;">71.12</div>
<div class="t" style="left:849.05px;top:1263.35px;font-size:15.5px;font-weight:400;color:#1e1e1e;letter-spacing:0.6px;transform:translateX(-50%) scaleX(1.0);transform-origin:50% 0;">74.16</div>
<div class="t" style="left:674.60px;top:1285.36px;font-size:15.5px;font-weight:400;color:#1e1e1e;letter-spacing:0.4px;transform:translateX(-50%) scaleX(1.0);transform-origin:50% 0;">30</div>
<div class="t" style="left:761.00px;top:1285.36px;font-size:15.5px;font-weight:400;color:#1e1e1e;letter-spacing:0.6px;transform:translateX(-50%) scaleX(1.0);transform-origin:50% 0;">73.66</div>
<div class="t" style="left:849.05px;top:1285.36px;font-size:15.5px;font-weight:400;color:#1e1e1e;letter-spacing:0.6px;transform:translateX(-50%) scaleX(1.0);transform-origin:50% 0;">76.70</div>
<div class="t" style="left:674.60px;top:1307.37px;font-size:15.5px;font-weight:400;color:#1e1e1e;letter-spacing:0.4px;transform:translateX(-50%) scaleX(1.0);transform-origin:50% 0;">31</div>
<div class="t" style="left:761.00px;top:1307.37px;font-size:15.5px;font-weight:400;color:#1e1e1e;letter-spacing:0.6px;transform:translateX(-50%) scaleX(1.0);transform-origin:50% 0;">76.20</div>
<div class="t" style="left:849.05px;top:1307.37px;font-size:15.5px;font-weight:400;color:#1e1e1e;letter-spacing:0.6px;transform:translateX(-50%) scaleX(1.0);transform-origin:50% 0;">79.24</div>
<div class="r" style="left:902.20px;top:1058.20px;width:269.80px;height:45.60px;background:#c0e1dd;"></div>
<div class="r" style="left:902.20px;top:1103.80px;width:269.80px;height:24.91px;background:#ffffff;"></div>
<div class="r" style="left:902.20px;top:1125.81px;width:269.80px;height:24.91px;background:#c0e1dd;"></div>
<div class="r" style="left:902.20px;top:1147.82px;width:269.80px;height:24.91px;background:#ffffff;"></div>
<div class="r" style="left:902.20px;top:1169.83px;width:269.80px;height:24.91px;background:#c0e1dd;"></div>
<div class="r" style="left:902.20px;top:1191.84px;width:269.80px;height:24.91px;background:#ffffff;"></div>
<div class="r" style="left:902.20px;top:1213.85px;width:269.80px;height:24.91px;background:#c0e1dd;"></div>
<div class="r" style="left:902.20px;top:1235.86px;width:269.80px;height:24.91px;background:#ffffff;"></div>
<div class="r" style="left:902.20px;top:1257.87px;width:269.80px;height:24.91px;background:#c0e1dd;"></div>
<div class="r" style="left:902.20px;top:1279.88px;width:269.80px;height:24.91px;background:#ffffff;"></div>
<div class="r" style="left:902.20px;top:1301.89px;width:269.80px;height:24.91px;background:#c0e1dd;"></div>
<div class="r" style="left:902.20px;top:1058.20px;width:269.80px;height:2.90px;background:#1d2727;"></div>
<div class="r" style="left:993.80px;top:1080.20px;width:178.20px;height:2.90px;background:#1d2727;"></div>
<div class="r" style="left:902.20px;top:1103.80px;width:269.80px;height:2.90px;background:#1d2727;"></div>
<div class="r" style="left:902.20px;top:1125.81px;width:269.80px;height:2.90px;background:#1d2727;"></div>
<div class="r" style="left:902.20px;top:1147.82px;width:269.80px;height:2.90px;background:#1d2727;"></div>
<div class="r" style="left:902.20px;top:1169.83px;width:269.80px;height:2.90px;background:#1d2727;"></div>
<div class="r" style="left:902.20px;top:1191.84px;width:269.80px;height:2.90px;background:#1d2727;"></div>
<div class="r" style="left:902.20px;top:1213.85px;width:269.80px;height:2.90px;background:#1d2727;"></div>
<div class="r" style="left:902.20px;top:1235.86px;width:269.80px;height:2.90px;background:#1d2727;"></div>
<div class="r" style="left:902.20px;top:1257.87px;width:269.80px;height:2.90px;background:#1d2727;"></div>
<div class="r" style="left:902.20px;top:1279.88px;width:269.80px;height:2.90px;background:#1d2727;"></div>
<div class="r" style="left:902.20px;top:1301.89px;width:269.80px;height:2.90px;background:#1d2727;"></div>
<div class="r" style="left:902.20px;top:1323.90px;width:269.80px;height:2.90px;background:#1d2727;"></div>
<div class="r" style="left:902.20px;top:1058.20px;width:2.90px;height:268.60px;background:#1d2727;"></div>
<div class="r" style="left:993.80px;top:1058.20px;width:2.90px;height:268.60px;background:#1d2727;"></div>
<div class="r" style="left:1081.30px;top:1080.20px;width:2.90px;height:246.60px;background:#1d2727;"></div>
<div class="r" style="left:1168.80px;top:1058.20px;width:3.20px;height:268.60px;background:#1d2727;"></div>
<div class="t" style="left:949.95px;top:1063.28px;font-size:15.5px;font-weight:400;color:#1e1e1e;letter-spacing:0.85px;transform:translateX(-50%) scaleX(1.0);transform-origin:50% 0;">No. of</div>
<div class="t" style="left:949.45px;top:1084.08px;font-size:15.5px;font-weight:400;color:#1e1e1e;letter-spacing:0.5px;transform:translateX(-50%) scaleX(1.0);transform-origin:50% 0;">Pins/Row</div>
<div class="t" style="left:1083.25px;top:1062.60px;font-size:15px;font-weight:400;color:#1e1e1e;letter-spacing:0.85px;transform:translateX(-50%) scaleX(1.0);transform-origin:50% 0;">Dimension Information</div>
<div class="t" style="left:1039.00px;top:1086.40px;font-size:15px;font-weight:400;color:#1e1e1e;letter-spacing:0px;transform:translateX(-50%) scaleX(1.0);transform-origin:50% 0;">C</div>
<div class="t" style="left:1126.50px;top:1086.40px;font-size:15px;font-weight:400;color:#1e1e1e;letter-spacing:0px;transform:translateX(-50%) scaleX(1.0);transform-origin:50% 0;">D</div>
<div class="t" style="left:949.95px;top:1109.28px;font-size:15.5px;font-weight:400;color:#1e1e1e;letter-spacing:0.4px;transform:translateX(-50%) scaleX(1.0);transform-origin:50% 0;">32</div>
<div class="t" style="left:1036.50px;top:1109.28px;font-size:15.5px;font-weight:400;color:#1e1e1e;letter-spacing:0.6px;transform:translateX(-50%) scaleX(1.0);transform-origin:50% 0;">78.74</div>
<div class="t" style="left:1124.00px;top:1109.28px;font-size:15.5px;font-weight:400;color:#1e1e1e;letter-spacing:0.6px;transform:translateX(-50%) scaleX(1.0);transform-origin:50% 0;">81.78</div>
<div class="t" style="left:949.95px;top:1131.29px;font-size:15.5px;font-weight:400;color:#1e1e1e;letter-spacing:0.4px;transform:translateX(-50%) scaleX(1.0);transform-origin:50% 0;">33</div>
<div class="t" style="left:1036.50px;top:1131.29px;font-size:15.5px;font-weight:400;color:#1e1e1e;letter-spacing:0.6px;transform:translateX(-50%) scaleX(1.0);transform-origin:50% 0;">81.28</div>
<div class="t" style="left:1124.00px;top:1131.29px;font-size:15.5px;font-weight:400;color:#1e1e1e;letter-spacing:0.6px;transform:translateX(-50%) scaleX(1.0);transform-origin:50% 0;">84.32</div>
<div class="t" style="left:949.95px;top:1153.30px;font-size:15.5px;font-weight:400;color:#1e1e1e;letter-spacing:0.4px;transform:translateX(-50%) scaleX(1.0);transform-origin:50% 0;">34</div>
<div class="t" style="left:1036.50px;top:1153.30px;font-size:15.5px;font-weight:400;color:#1e1e1e;letter-spacing:0.6px;transform:translateX(-50%) scaleX(1.0);transform-origin:50% 0;">83.82</div>
<div class="t" style="left:1124.00px;top:1153.30px;font-size:15.5px;font-weight:400;color:#1e1e1e;letter-spacing:0.6px;transform:translateX(-50%) scaleX(1.0);transform-origin:50% 0;">86.86</div>
<div class="t" style="left:949.95px;top:1175.31px;font-size:15.5px;font-weight:400;color:#1e1e1e;letter-spacing:0.4px;transform:translateX(-50%) scaleX(1.0);transform-origin:50% 0;">35</div>
<div class="t" style="left:1036.50px;top:1175.31px;font-size:15.5px;font-weight:400;color:#1e1e1e;letter-spacing:0.6px;transform:translateX(-50%) scaleX(1.0);transform-origin:50% 0;">86.36</div>
<div class="t" style="left:1124.00px;top:1175.31px;font-size:15.5px;font-weight:400;color:#1e1e1e;letter-spacing:0.6px;transform:translateX(-50%) scaleX(1.0);transform-origin:50% 0;">89.40</div>
<div class="t" style="left:949.95px;top:1197.32px;font-size:15.5px;font-weight:400;color:#1e1e1e;letter-spacing:0.4px;transform:translateX(-50%) scaleX(1.0);transform-origin:50% 0;">36</div>
<div class="t" style="left:1036.50px;top:1197.32px;font-size:15.5px;font-weight:400;color:#1e1e1e;letter-spacing:0.6px;transform:translateX(-50%) scaleX(1.0);transform-origin:50% 0;">88.90</div>
<div class="t" style="left:1124.00px;top:1197.32px;font-size:15.5px;font-weight:400;color:#1e1e1e;letter-spacing:0.6px;transform:translateX(-50%) scaleX(1.0);transform-origin:50% 0;">91.94</div>
<div class="t" style="left:949.95px;top:1219.33px;font-size:15.5px;font-weight:400;color:#1e1e1e;letter-spacing:0.4px;transform:translateX(-50%) scaleX(1.0);transform-origin:50% 0;">37</div>
<div class="t" style="left:1036.50px;top:1219.33px;font-size:15.5px;font-weight:400;color:#1e1e1e;letter-spacing:0.6px;transform:translateX(-50%) scaleX(1.0);transform-origin:50% 0;">91.44</div>
<div class="t" style="left:1124.00px;top:1219.33px;font-size:15.5px;font-weight:400;color:#1e1e1e;letter-spacing:0.6px;transform:translateX(-50%) scaleX(1.0);transform-origin:50% 0;">94.48</div>
<div class="t" style="left:949.95px;top:1241.34px;font-size:15.5px;font-weight:400;color:#1e1e1e;letter-spacing:0.4px;transform:translateX(-50%) scaleX(1.0);transform-origin:50% 0;">38</div>
<div class="t" style="left:1036.50px;top:1241.34px;font-size:15.5px;font-weight:400;color:#1e1e1e;letter-spacing:0.6px;transform:translateX(-50%) scaleX(1.0);transform-origin:50% 0;">93.98</div>
<div class="t" style="left:1124.00px;top:1241.34px;font-size:15.5px;font-weight:400;color:#1e1e1e;letter-spacing:0.6px;transform:translateX(-50%) scaleX(1.0);transform-origin:50% 0;">97.02</div>
<div class="t" style="left:949.95px;top:1263.35px;font-size:15.5px;font-weight:400;color:#1e1e1e;letter-spacing:0.4px;transform:translateX(-50%) scaleX(1.0);transform-origin:50% 0;">39</div>
<div class="t" style="left:1036.50px;top:1263.35px;font-size:15.5px;font-weight:400;color:#1e1e1e;letter-spacing:0.6px;transform:translateX(-50%) scaleX(1.0);transform-origin:50% 0;">96.52</div>
<div class="t" style="left:1124.00px;top:1263.35px;font-size:15.5px;font-weight:400;color:#1e1e1e;letter-spacing:0.6px;transform:translateX(-50%) scaleX(1.0);transform-origin:50% 0;">99.56</div>
<div class="t" style="left:949.95px;top:1285.36px;font-size:15.5px;font-weight:400;color:#1e1e1e;letter-spacing:0.4px;transform:translateX(-50%) scaleX(1.0);transform-origin:50% 0;">40</div>
<div class="t" style="left:1036.50px;top:1285.36px;font-size:15.5px;font-weight:400;color:#1e1e1e;letter-spacing:0.6px;transform:translateX(-50%) scaleX(1.0);transform-origin:50% 0;">99.06</div>
<div class="t" style="left:1124.00px;top:1285.36px;font-size:15.5px;font-weight:400;color:#1e1e1e;letter-spacing:0.6px;transform:translateX(-50%) scaleX(1.0);transform-origin:50% 0;">102.10</div>
<div class="t" style="left:466.50px;top:1390.20px;font-size:28px;font-weight:400;color:#1a1a1a;letter-spacing:0.5px;">Ordering Information</div>
<div class="t" style="left:385.90px;top:1433.62px;font-size:19px;font-weight:400;color:#111;letter-spacing:0.35px;">MFHB110 -</div>
<div class="r" style="left:491.30px;top:1431.30px;width:57.50px;height:25.10px;background:#c9c9c9;"></div>
<div class="r" style="left:655.20px;top:1431.30px;width:40.60px;height:25.10px;background:#c9c9c9;"></div>
<div class="t" style="left:520.80px;top:1432.82px;font-size:21px;font-weight:400;color:#222;letter-spacing:0.8px;transform:translateX(-50%) scaleX(1.0);transform-origin:50% 0;">XX</div>
<div class="t" style="left:676.30px;top:1432.82px;font-size:21px;font-weight:400;color:#222;letter-spacing:0.8px;transform:translateX(-50%) scaleX(1.0);transform-origin:50% 0;">XX</div>
<div class="t" style="left:711.30px;top:1434.09px;font-size:19.5px;font-weight:400;color:#111;letter-spacing:0.3px;">A001</div>
<div class="r" style="left:491.30px;top:1464.20px;width:152.20px;height:22.80px;background:#c0e1dd;"></div>
<div class="t" style="left:493.70px;top:1467.76px;font-size:16px;font-weight:400;color:#1a2224;letter-spacing:0.26px;">No.of Pins per Row</div>
<div class="r" style="left:491.30px;top:1491.90px;width:57.50px;height:22.60px;background:#c9c9c9;"></div>
<div class="t" style="left:520.00px;top:1495.43px;font-size:16.5px;font-weight:400;color:#222;letter-spacing:0.2px;transform:translateX(-50%) scaleX(1.0);transform-origin:50% 0;">02~40</div>
<div class="r" style="left:655.20px;top:1464.20px;width:166.40px;height:22.80px;background:#c0e1dd;"></div>
<div class="t" style="left:658.30px;top:1467.76px;font-size:16px;font-weight:400;color:#1a2224;letter-spacing:0.33px;">Standard Plating</div>
<div class="r" style="left:655.20px;top:1522.20px;width:166.40px;height:23.30px;background:#c0e1dd;"></div>
<div class="t" style="left:658.30px;top:1525.46px;font-size:16px;font-weight:400;color:#1a2224;letter-spacing:0.33px;">Selective Plating</div>
<div class="r" style="left:655.20px;top:1492.20px;width:40.60px;height:22.30px;background:#c9c9c9;"></div>
<div class="t" style="left:675.50px;top:1495.36px;font-size:16px;font-weight:400;color:#222;letter-spacing:0.3px;transform:translateX(-50%) scaleX(1.0);transform-origin:50% 0;">02</div>
<div class="t" style="left:697.70px;top:1495.36px;font-size:16px;font-weight:400;color:#111;letter-spacing:0.35px;-webkit-text-stroke:0.3px #111;">:Gold Flash</div>
<div class="r" style="left:698.70px;top:1510.90px;width:85.74px;height:2.20px;background:#111;"></div>
<div class="r" style="left:655.20px;top:1553.20px;width:40.60px;height:22.30px;background:#c9c9c9;"></div>
<div class="t" style="left:675.50px;top:1555.86px;font-size:16px;font-weight:400;color:#222;letter-spacing:0.3px;transform:translateX(-50%) scaleX(1.0);transform-origin:50% 0;">01</div>
<div class="t" style="left:697.70px;top:1555.86px;font-size:16px;font-weight:400;color:#111;letter-spacing:0.35px;-webkit-text-stroke:0.3px #111;">:Tin</div>
<div class="r" style="left:698.70px;top:1570.90px;width:27.51px;height:2.20px;background:#111;"></div>
<div class="r" style="left:655.20px;top:1583.20px;width:40.60px;height:22.30px;background:#c9c9c9;"></div>
<div class="t" style="left:675.50px;top:1586.16px;font-size:16px;font-weight:400;color:#222;letter-spacing:0.3px;transform:translateX(-50%) scaleX(1.0);transform-origin:50% 0;">05</div>
<div class="t" style="left:697.70px;top:1586.16px;font-size:16px;font-weight:400;color:#111;letter-spacing:0.35px;-webkit-text-stroke:0.3px #111;">:Gold Flash / Tin</div>
<div class="r" style="left:698.70px;top:1601.50px;width:122.58px;height:2.20px;background:#111;"></div>
<div class="t" style="left:493.30px;top:1668.69px;font-size:17.5px;font-weight:400;color:#111;letter-spacing:0px;-webkit-text-stroke:0.3px #111;">*</div>
<div class="t" style="left:503.00px;top:1671.75px;font-size:14px;font-weight:400;color:#1a1a1a;letter-spacing:1.0px;">Standard Packaging:Tube</div>
<div class="t" style="left:88.00px;top:1701.47px;font-size:20px;font-weight:400;color:#1e8f53;letter-spacing:1.66px;-webkit-text-stroke:0.25px #1e8f53;word-spacing:-3.3px;">Due to technical progress,all designs,Specifications and components are subject to change without notice</div>
</body></html>
